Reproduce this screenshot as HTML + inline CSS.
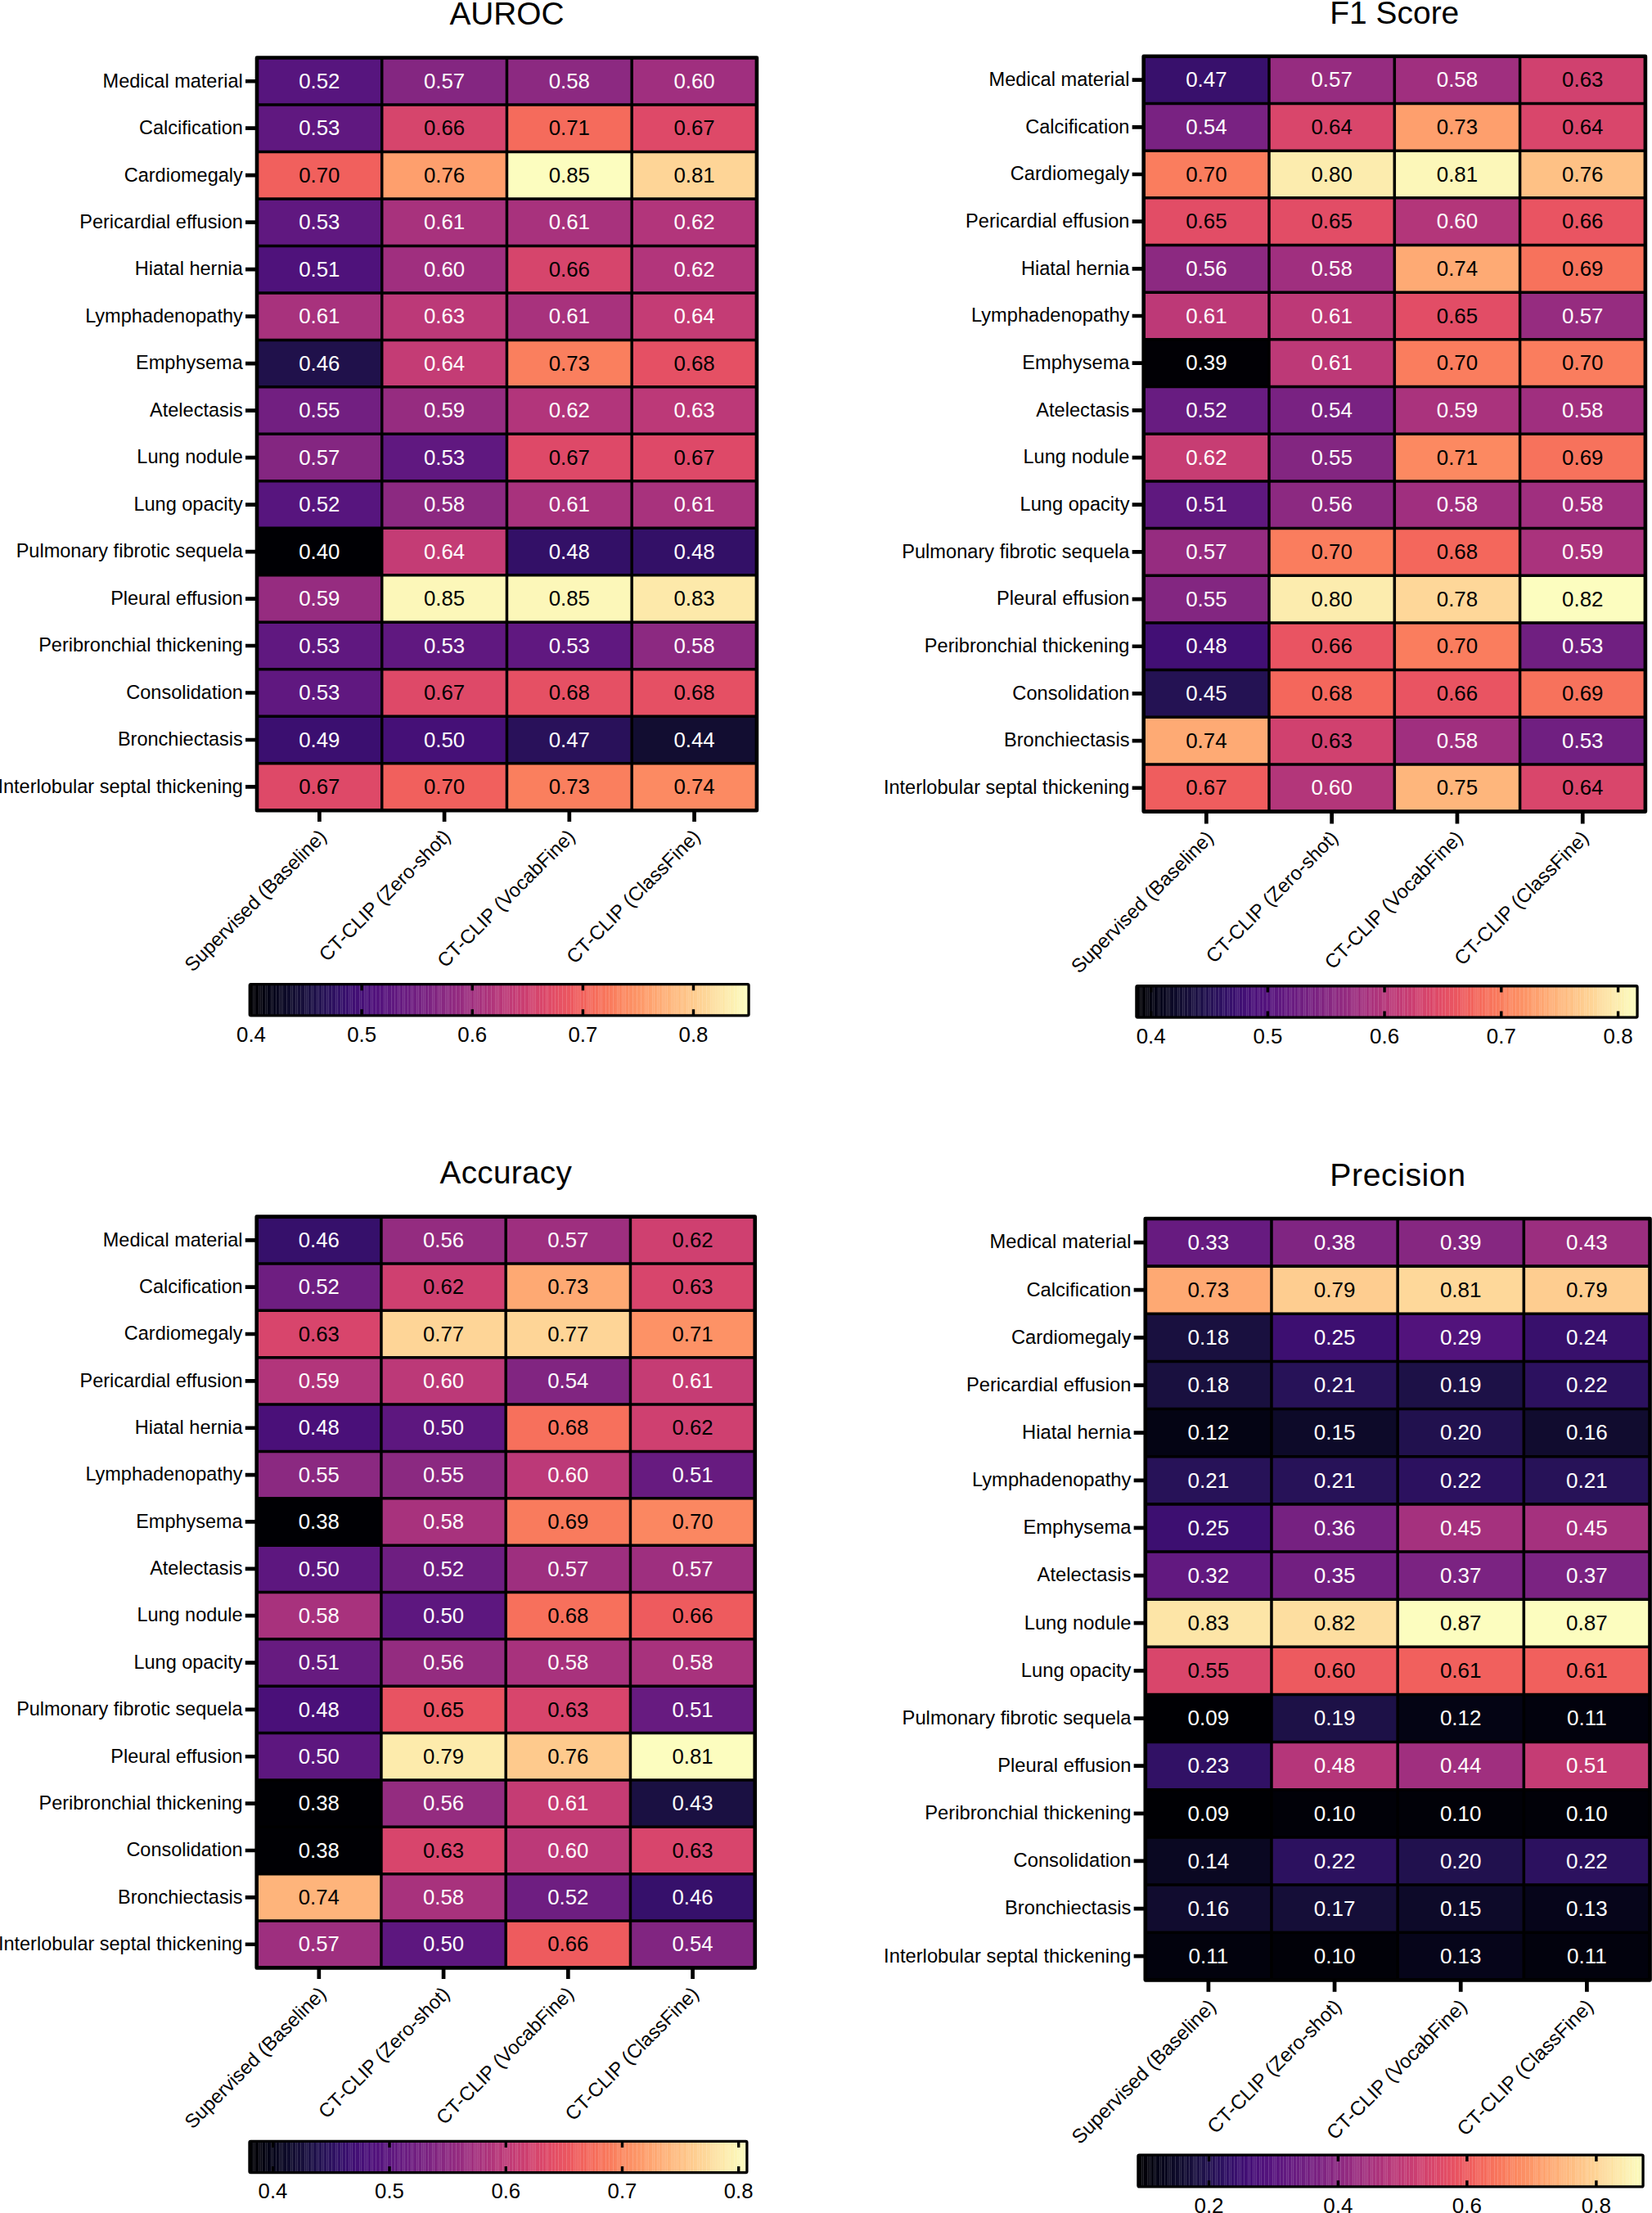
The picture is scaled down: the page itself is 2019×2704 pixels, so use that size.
<!DOCTYPE html>
<html><head><meta charset="utf-8"><title>Heatmaps</title>
<style>html,body{margin:0;padding:0;background:#fff}svg{display:block}text{font-family:"Liberation Sans",sans-serif;fill:#000}.w{fill:#fff}</style></head><body>
<svg width="2019" height="2704" viewBox="0 0 2019 2704">
<defs><linearGradient id="mg" x1="0" y1="0" x2="1" y2="0"><stop offset="0.0000" stop-color="#000004"/><stop offset="0.0156" stop-color="#020109"/><stop offset="0.0312" stop-color="#030312"/><stop offset="0.0469" stop-color="#06051a"/><stop offset="0.0625" stop-color="#0a0822"/><stop offset="0.0781" stop-color="#0e0b2b"/><stop offset="0.0938" stop-color="#130d34"/><stop offset="0.1094" stop-color="#180f3d"/><stop offset="0.1250" stop-color="#1d1147"/><stop offset="0.1406" stop-color="#221150"/><stop offset="0.1562" stop-color="#29115a"/><stop offset="0.1719" stop-color="#2f1163"/><stop offset="0.1875" stop-color="#36106b"/><stop offset="0.2031" stop-color="#3d0f71"/><stop offset="0.2188" stop-color="#440f76"/><stop offset="0.2344" stop-color="#4a1079"/><stop offset="0.2500" stop-color="#51127c"/><stop offset="0.2656" stop-color="#57157e"/><stop offset="0.2812" stop-color="#5d177f"/><stop offset="0.2969" stop-color="#641a80"/><stop offset="0.3125" stop-color="#6a1c81"/><stop offset="0.3281" stop-color="#701f81"/><stop offset="0.3438" stop-color="#762181"/><stop offset="0.3594" stop-color="#7c2382"/><stop offset="0.3750" stop-color="#832681"/><stop offset="0.3906" stop-color="#892881"/><stop offset="0.4062" stop-color="#902a81"/><stop offset="0.4219" stop-color="#962c80"/><stop offset="0.4375" stop-color="#9c2e7f"/><stop offset="0.4531" stop-color="#a3307e"/><stop offset="0.4688" stop-color="#aa337d"/><stop offset="0.4844" stop-color="#b0357b"/><stop offset="0.5000" stop-color="#b73779"/><stop offset="0.5156" stop-color="#bd3977"/><stop offset="0.5312" stop-color="#c43c75"/><stop offset="0.5469" stop-color="#ca3e72"/><stop offset="0.5625" stop-color="#d0416f"/><stop offset="0.5781" stop-color="#d6456c"/><stop offset="0.5938" stop-color="#dc4869"/><stop offset="0.6094" stop-color="#e24d66"/><stop offset="0.6250" stop-color="#e75263"/><stop offset="0.6406" stop-color="#eb5760"/><stop offset="0.6562" stop-color="#ef5d5e"/><stop offset="0.6719" stop-color="#f2645c"/><stop offset="0.6875" stop-color="#f56b5c"/><stop offset="0.7031" stop-color="#f7725c"/><stop offset="0.7188" stop-color="#f9795d"/><stop offset="0.7344" stop-color="#fa815f"/><stop offset="0.7500" stop-color="#fc8961"/><stop offset="0.7656" stop-color="#fc9065"/><stop offset="0.7812" stop-color="#fd9869"/><stop offset="0.7969" stop-color="#fe9f6d"/><stop offset="0.8125" stop-color="#fea772"/><stop offset="0.8281" stop-color="#feae77"/><stop offset="0.8438" stop-color="#feb67c"/><stop offset="0.8594" stop-color="#febd82"/><stop offset="0.8750" stop-color="#fec488"/><stop offset="0.8906" stop-color="#fecc8f"/><stop offset="0.9062" stop-color="#fed395"/><stop offset="0.9219" stop-color="#fdda9c"/><stop offset="0.9375" stop-color="#fde2a3"/><stop offset="0.9531" stop-color="#fde9aa"/><stop offset="0.9688" stop-color="#fcf0b2"/><stop offset="0.9844" stop-color="#fcf7b9"/><stop offset="1.0000" stop-color="#fcfdbf"/></linearGradient></defs>
<rect width="2019" height="2704" fill="#fff"/>
<g>
<text x="619.45" y="30" font-size="38.8" text-anchor="middle">AUROC</text>
<rect x="314" y="70.5" width="152.72" height="57.48" fill="#57157e"/>
<rect x="466.73" y="70.5" width="152.72" height="57.48" fill="#842681"/>
<rect x="619.45" y="70.5" width="152.72" height="57.48" fill="#8c2981"/>
<rect x="772.17" y="70.5" width="152.72" height="57.48" fill="#a02f7f"/>
<rect x="314" y="127.98" width="152.72" height="57.48" fill="#601880"/>
<rect x="466.73" y="127.98" width="152.72" height="57.48" fill="#d6456c"/>
<rect x="619.45" y="127.98" width="152.72" height="57.48" fill="#f56b5c"/>
<rect x="772.17" y="127.98" width="152.72" height="57.48" fill="#de4968"/>
<rect x="314" y="185.46" width="152.72" height="57.48" fill="#f1605d"/>
<rect x="466.73" y="185.46" width="152.72" height="57.48" fill="#fe9f6d"/>
<rect x="619.45" y="185.46" width="152.72" height="57.48" fill="#fcfdbf"/>
<rect x="772.17" y="185.46" width="152.72" height="57.48" fill="#fed597"/>
<rect x="314" y="242.94" width="152.72" height="57.48" fill="#601880"/>
<rect x="466.73" y="242.94" width="152.72" height="57.48" fill="#a8327d"/>
<rect x="619.45" y="242.94" width="152.72" height="57.48" fill="#a8327d"/>
<rect x="772.17" y="242.94" width="152.72" height="57.48" fill="#b2357b"/>
<rect x="314" y="300.43" width="152.72" height="57.48" fill="#4f127b"/>
<rect x="466.73" y="300.43" width="152.72" height="57.48" fill="#a02f7f"/>
<rect x="619.45" y="300.43" width="152.72" height="57.48" fill="#d6456c"/>
<rect x="772.17" y="300.43" width="152.72" height="57.48" fill="#b2357b"/>
<rect x="314" y="357.91" width="152.72" height="57.48" fill="#a8327d"/>
<rect x="466.73" y="357.91" width="152.72" height="57.48" fill="#bc3978"/>
<rect x="619.45" y="357.91" width="152.72" height="57.48" fill="#a8327d"/>
<rect x="772.17" y="357.91" width="152.72" height="57.48" fill="#c43c75"/>
<rect x="314" y="415.39" width="152.72" height="57.48" fill="#20114b"/>
<rect x="466.73" y="415.39" width="152.72" height="57.48" fill="#c43c75"/>
<rect x="619.45" y="415.39" width="152.72" height="57.48" fill="#fa7f5e"/>
<rect x="772.17" y="415.39" width="152.72" height="57.48" fill="#e55064"/>
<rect x="314" y="472.87" width="152.72" height="57.48" fill="#721f81"/>
<rect x="466.73" y="472.87" width="152.72" height="57.48" fill="#962c80"/>
<rect x="619.45" y="472.87" width="152.72" height="57.48" fill="#b2357b"/>
<rect x="772.17" y="472.87" width="152.72" height="57.48" fill="#bc3978"/>
<rect x="314" y="530.35" width="152.72" height="57.48" fill="#842681"/>
<rect x="466.73" y="530.35" width="152.72" height="57.48" fill="#601880"/>
<rect x="619.45" y="530.35" width="152.72" height="57.48" fill="#de4968"/>
<rect x="772.17" y="530.35" width="152.72" height="57.48" fill="#de4968"/>
<rect x="314" y="587.83" width="152.72" height="57.48" fill="#57157e"/>
<rect x="466.73" y="587.83" width="152.72" height="57.48" fill="#8c2981"/>
<rect x="619.45" y="587.83" width="152.72" height="57.48" fill="#a8327d"/>
<rect x="772.17" y="587.83" width="152.72" height="57.48" fill="#a8327d"/>
<rect x="314" y="645.31" width="152.72" height="57.48" fill="#000004"/>
<rect x="466.73" y="645.31" width="152.72" height="57.48" fill="#c43c75"/>
<rect x="619.45" y="645.31" width="152.72" height="57.48" fill="#331067"/>
<rect x="772.17" y="645.31" width="152.72" height="57.48" fill="#331067"/>
<rect x="314" y="702.79" width="152.72" height="57.48" fill="#962c80"/>
<rect x="466.73" y="702.79" width="152.72" height="57.48" fill="#fcf7b9"/>
<rect x="619.45" y="702.79" width="152.72" height="57.48" fill="#fcf7b9"/>
<rect x="772.17" y="702.79" width="152.72" height="57.48" fill="#fde9aa"/>
<rect x="314" y="760.28" width="152.72" height="57.48" fill="#601880"/>
<rect x="466.73" y="760.28" width="152.72" height="57.48" fill="#601880"/>
<rect x="619.45" y="760.28" width="152.72" height="57.48" fill="#601880"/>
<rect x="772.17" y="760.28" width="152.72" height="57.48" fill="#8c2981"/>
<rect x="314" y="817.76" width="152.72" height="57.48" fill="#601880"/>
<rect x="466.73" y="817.76" width="152.72" height="57.48" fill="#de4968"/>
<rect x="619.45" y="817.76" width="152.72" height="57.48" fill="#e55064"/>
<rect x="772.17" y="817.76" width="152.72" height="57.48" fill="#e55064"/>
<rect x="314" y="875.24" width="152.72" height="57.48" fill="#3b0f70"/>
<rect x="466.73" y="875.24" width="152.72" height="57.48" fill="#451077"/>
<rect x="619.45" y="875.24" width="152.72" height="57.48" fill="#29115a"/>
<rect x="772.17" y="875.24" width="152.72" height="57.48" fill="#120d31"/>
<rect x="314" y="932.72" width="152.72" height="57.48" fill="#de4968"/>
<rect x="466.73" y="932.72" width="152.72" height="57.48" fill="#f1605d"/>
<rect x="619.45" y="932.72" width="152.72" height="57.48" fill="#fa7f5e"/>
<rect x="772.17" y="932.72" width="152.72" height="57.48" fill="#fc8a62"/>
<path d="M466.73 70.5V990.2M619.45 70.5V990.2M772.17 70.5V990.2M314 127.98H924.9M314 185.46H924.9M314 242.94H924.9M314 300.43H924.9M314 357.91H924.9M314 415.39H924.9M314 472.87H924.9M314 530.35H924.9M314 587.83H924.9M314 645.31H924.9M314 702.79H924.9M314 760.28H924.9M314 817.76H924.9M314 875.24H924.9M314 932.72H924.9" stroke="#000" stroke-width="3.5" fill="none"/>
<rect x="314" y="70.5" width="610.9" height="919.7" fill="none" stroke="#000" stroke-width="4.6" stroke-linejoin="round"/>
<path d="M300 99.24H314M300 156.72H314M300 214.2H314M300 271.68H314M300 329.17H314M300 386.65H314M300 444.13H314M300 501.61H314M300 559.09H314M300 616.57H314M300 674.05H314M300 731.53H314M300 789.02H314M300 846.5H314M300 903.98H314M300 961.46H314M390.36 990.2V1003.9M543.09 990.2V1003.9M695.81 990.2V1003.9M848.54 990.2V1003.9" stroke="#000" stroke-width="4.7" fill="none"/>
<text x="296.8" y="106.54" font-size="23.52" text-anchor="end">Medical material</text>
<text x="296.8" y="164.02" font-size="23.52" text-anchor="end">Calcification</text>
<text x="296.8" y="221.5" font-size="23.52" text-anchor="end">Cardiomegaly</text>
<text x="296.8" y="278.98" font-size="23.52" text-anchor="end">Pericardial effusion</text>
<text x="296.8" y="336.47" font-size="23.52" text-anchor="end">Hiatal hernia</text>
<text x="296.8" y="393.95" font-size="23.52" text-anchor="end">Lymphadenopathy</text>
<text x="296.8" y="451.43" font-size="23.52" text-anchor="end">Emphysema</text>
<text x="296.8" y="508.91" font-size="23.52" text-anchor="end">Atelectasis</text>
<text x="296.8" y="566.39" font-size="23.52" text-anchor="end">Lung nodule</text>
<text x="296.8" y="623.87" font-size="23.52" text-anchor="end">Lung opacity</text>
<text x="296.8" y="681.35" font-size="23.52" text-anchor="end">Pulmonary fibrotic sequela</text>
<text x="296.8" y="738.83" font-size="23.52" text-anchor="end">Pleural effusion</text>
<text x="296.8" y="796.32" font-size="23.52" text-anchor="end">Peribronchial thickening</text>
<text x="296.8" y="853.8" font-size="23.52" text-anchor="end">Consolidation</text>
<text x="296.8" y="911.28" font-size="23.52" text-anchor="end">Bronchiectasis</text>
<text x="296.8" y="968.76" font-size="23.52" text-anchor="end">Interlobular septal thickening</text>
<text x="390.36" y="107.94" font-size="25.8" text-anchor="middle" class="w">0.52</text>
<text x="543.09" y="107.94" font-size="25.8" text-anchor="middle" class="w">0.57</text>
<text x="695.81" y="107.94" font-size="25.8" text-anchor="middle" class="w">0.58</text>
<text x="848.54" y="107.94" font-size="25.8" text-anchor="middle" class="w">0.60</text>
<text x="390.36" y="165.42" font-size="25.8" text-anchor="middle" class="w">0.53</text>
<text x="543.09" y="165.42" font-size="25.8" text-anchor="middle">0.66</text>
<text x="695.81" y="165.42" font-size="25.8" text-anchor="middle">0.71</text>
<text x="848.54" y="165.42" font-size="25.8" text-anchor="middle">0.67</text>
<text x="390.36" y="222.9" font-size="25.8" text-anchor="middle">0.70</text>
<text x="543.09" y="222.9" font-size="25.8" text-anchor="middle">0.76</text>
<text x="695.81" y="222.9" font-size="25.8" text-anchor="middle">0.85</text>
<text x="848.54" y="222.9" font-size="25.8" text-anchor="middle">0.81</text>
<text x="390.36" y="280.38" font-size="25.8" text-anchor="middle" class="w">0.53</text>
<text x="543.09" y="280.38" font-size="25.8" text-anchor="middle" class="w">0.61</text>
<text x="695.81" y="280.38" font-size="25.8" text-anchor="middle" class="w">0.61</text>
<text x="848.54" y="280.38" font-size="25.8" text-anchor="middle" class="w">0.62</text>
<text x="390.36" y="337.87" font-size="25.8" text-anchor="middle" class="w">0.51</text>
<text x="543.09" y="337.87" font-size="25.8" text-anchor="middle" class="w">0.60</text>
<text x="695.81" y="337.87" font-size="25.8" text-anchor="middle">0.66</text>
<text x="848.54" y="337.87" font-size="25.8" text-anchor="middle" class="w">0.62</text>
<text x="390.36" y="395.35" font-size="25.8" text-anchor="middle" class="w">0.61</text>
<text x="543.09" y="395.35" font-size="25.8" text-anchor="middle" class="w">0.63</text>
<text x="695.81" y="395.35" font-size="25.8" text-anchor="middle" class="w">0.61</text>
<text x="848.54" y="395.35" font-size="25.8" text-anchor="middle" class="w">0.64</text>
<text x="390.36" y="452.83" font-size="25.8" text-anchor="middle" class="w">0.46</text>
<text x="543.09" y="452.83" font-size="25.8" text-anchor="middle" class="w">0.64</text>
<text x="695.81" y="452.83" font-size="25.8" text-anchor="middle">0.73</text>
<text x="848.54" y="452.83" font-size="25.8" text-anchor="middle">0.68</text>
<text x="390.36" y="510.31" font-size="25.8" text-anchor="middle" class="w">0.55</text>
<text x="543.09" y="510.31" font-size="25.8" text-anchor="middle" class="w">0.59</text>
<text x="695.81" y="510.31" font-size="25.8" text-anchor="middle" class="w">0.62</text>
<text x="848.54" y="510.31" font-size="25.8" text-anchor="middle" class="w">0.63</text>
<text x="390.36" y="567.79" font-size="25.8" text-anchor="middle" class="w">0.57</text>
<text x="543.09" y="567.79" font-size="25.8" text-anchor="middle" class="w">0.53</text>
<text x="695.81" y="567.79" font-size="25.8" text-anchor="middle">0.67</text>
<text x="848.54" y="567.79" font-size="25.8" text-anchor="middle">0.67</text>
<text x="390.36" y="625.27" font-size="25.8" text-anchor="middle" class="w">0.52</text>
<text x="543.09" y="625.27" font-size="25.8" text-anchor="middle" class="w">0.58</text>
<text x="695.81" y="625.27" font-size="25.8" text-anchor="middle" class="w">0.61</text>
<text x="848.54" y="625.27" font-size="25.8" text-anchor="middle" class="w">0.61</text>
<text x="390.36" y="682.75" font-size="25.8" text-anchor="middle" class="w">0.40</text>
<text x="543.09" y="682.75" font-size="25.8" text-anchor="middle" class="w">0.64</text>
<text x="695.81" y="682.75" font-size="25.8" text-anchor="middle" class="w">0.48</text>
<text x="848.54" y="682.75" font-size="25.8" text-anchor="middle" class="w">0.48</text>
<text x="390.36" y="740.23" font-size="25.8" text-anchor="middle" class="w">0.59</text>
<text x="543.09" y="740.23" font-size="25.8" text-anchor="middle">0.85</text>
<text x="695.81" y="740.23" font-size="25.8" text-anchor="middle">0.85</text>
<text x="848.54" y="740.23" font-size="25.8" text-anchor="middle">0.83</text>
<text x="390.36" y="797.72" font-size="25.8" text-anchor="middle" class="w">0.53</text>
<text x="543.09" y="797.72" font-size="25.8" text-anchor="middle" class="w">0.53</text>
<text x="695.81" y="797.72" font-size="25.8" text-anchor="middle" class="w">0.53</text>
<text x="848.54" y="797.72" font-size="25.8" text-anchor="middle" class="w">0.58</text>
<text x="390.36" y="855.2" font-size="25.8" text-anchor="middle" class="w">0.53</text>
<text x="543.09" y="855.2" font-size="25.8" text-anchor="middle">0.67</text>
<text x="695.81" y="855.2" font-size="25.8" text-anchor="middle">0.68</text>
<text x="848.54" y="855.2" font-size="25.8" text-anchor="middle">0.68</text>
<text x="390.36" y="912.68" font-size="25.8" text-anchor="middle" class="w">0.49</text>
<text x="543.09" y="912.68" font-size="25.8" text-anchor="middle" class="w">0.50</text>
<text x="695.81" y="912.68" font-size="25.8" text-anchor="middle" class="w">0.47</text>
<text x="848.54" y="912.68" font-size="25.8" text-anchor="middle" class="w">0.44</text>
<text x="390.36" y="970.16" font-size="25.8" text-anchor="middle">0.67</text>
<text x="543.09" y="970.16" font-size="25.8" text-anchor="middle">0.70</text>
<text x="695.81" y="970.16" font-size="25.8" text-anchor="middle">0.73</text>
<text x="848.54" y="970.16" font-size="25.8" text-anchor="middle">0.74</text>
<text transform="translate(400.36 1023.6) rotate(-45)" font-size="23.83" text-anchor="end">Supervised (Baseline)</text>
<text transform="translate(551.99 1023.6) rotate(-45)" font-size="23.83" text-anchor="end">CT-CLIP (Zero-shot)</text>
<text transform="translate(704.01 1023.6) rotate(-45)" font-size="23.83" text-anchor="end">CT-CLIP (VocabFine)</text>
<text transform="translate(857.24 1023.6) rotate(-45)" font-size="23.83" text-anchor="end">CT-CLIP (ClassFine)</text>
<rect x="305.25" y="1202.65" width="609.8" height="38.3" fill="url(#mg)"/>
<path d="M309.5 1202.65V1240.95M311.5 1202.65V1240.95M316.5 1202.65V1240.95M318.5 1202.65V1240.95M320.5 1202.65V1240.95M324.5 1202.65V1240.95M326.5 1202.65V1240.95M331.5 1202.65V1240.95M333.5 1202.65V1240.95M337.5 1202.65V1240.95M341.5 1202.65V1240.95M343.5 1202.65V1240.95M345.5 1202.65V1240.95M350.5 1202.65V1240.95M355.5 1202.65V1240.95M357.5 1202.65V1240.95M361.5 1202.65V1240.95M363.5 1202.65V1240.95M367.5 1202.65V1240.95M372.5 1202.65V1240.95M374.5 1202.65V1240.95M376.5 1202.65V1240.95M380.5 1202.65V1240.95M382.5 1202.65V1240.95M387.5 1202.65V1240.95M389.5 1202.65V1240.95M393.5 1202.65V1240.95M395.5 1202.65V1240.95M399.5 1202.65V1240.95M401.5 1202.65V1240.95M405.5 1202.65V1240.95M410.5 1202.65V1240.95M412.5 1202.65V1240.95M416.5 1202.65V1240.95M418.5 1202.65V1240.95M422.5 1202.65V1240.95M426.5 1202.65V1240.95M428.5 1202.65V1240.95M430.5 1202.65V1240.95M434.5 1202.65V1240.95M439.5 1202.65V1240.95M441.5 1202.65V1240.95M445.5 1202.65V1240.95M447.5 1202.65V1240.95M449.5 1202.65V1240.95M453.5 1202.65V1240.95M455.5 1202.65V1240.95M459.5 1202.65V1240.95M464.5 1202.65V1240.95M469.5 1202.65V1240.95M471.5 1202.65V1240.95M473.5 1202.65V1240.95M478.5 1202.65V1240.95M482.5 1202.65V1240.95M486.5 1202.65V1240.95M488.5 1202.65V1240.95M492.5 1202.65V1240.95M494.5 1202.65V1240.95M498.5 1202.65V1240.95M502.5 1202.65V1240.95M504.5 1202.65V1240.95M509.5 1202.65V1240.95M511.5 1202.65V1240.95M515.5 1202.65V1240.95M517.5 1202.65V1240.95M519.5 1202.65V1240.95M523.5 1202.65V1240.95M528.5 1202.65V1240.95M530.5 1202.65V1240.95M535.5 1202.65V1240.95M537.5 1202.65V1240.95M539.5 1202.65V1240.95M544.5 1202.65V1240.95M546.5 1202.65V1240.95M548.5 1202.65V1240.95M552.5 1202.65V1240.95M557.5 1202.65V1240.95M562.5 1202.65V1240.95M567.5 1202.65V1240.95M569.5 1202.65V1240.95M571.5 1202.65V1240.95M573.5 1202.65V1240.95M575.5 1202.65V1240.95M579.5 1202.65V1240.95M581.5 1202.65V1240.95M583.5 1202.65V1240.95M585.5 1202.65V1240.95M589.5 1202.65V1240.95M591.5 1202.65V1240.95M595.5 1202.65V1240.95M600.5 1202.65V1240.95M605.5 1202.65V1240.95M607.5 1202.65V1240.95M609.5 1202.65V1240.95M614.5 1202.65V1240.95M616.5 1202.65V1240.95M618.5 1202.65V1240.95M620.5 1202.65V1240.95M622.5 1202.65V1240.95M626.5 1202.65V1240.95M630.5 1202.65V1240.95M632.5 1202.65V1240.95M636.5 1202.65V1240.95M641.5 1202.65V1240.95M646.5 1202.65V1240.95M648.5 1202.65V1240.95M650.5 1202.65V1240.95M652.5 1202.65V1240.95M654.5 1202.65V1240.95M659.5 1202.65V1240.95M663.5 1202.65V1240.95M667.5 1202.65V1240.95M669.5 1202.65V1240.95M674.5 1202.65V1240.95M678.5 1202.65V1240.95M682.5 1202.65V1240.95M687.5 1202.65V1240.95M692.5 1202.65V1240.95M697.5 1202.65V1240.95M701.5 1202.65V1240.95M703.5 1202.65V1240.95M705.5 1202.65V1240.95M707.5 1202.65V1240.95M709.5 1202.65V1240.95M713.5 1202.65V1240.95M717.5 1202.65V1240.95M719.5 1202.65V1240.95M721.5 1202.65V1240.95M723.5 1202.65V1240.95M727.5 1202.65V1240.95M731.5 1202.65V1240.95M733.5 1202.65V1240.95M735.5 1202.65V1240.95M740.5 1202.65V1240.95M744.5 1202.65V1240.95M749.5 1202.65V1240.95M754.5 1202.65V1240.95M756.5 1202.65V1240.95M760.5 1202.65V1240.95M762.5 1202.65V1240.95M764.5 1202.65V1240.95M768.5 1202.65V1240.95M773.5 1202.65V1240.95M778.5 1202.65V1240.95M783.5 1202.65V1240.95M788.5 1202.65V1240.95M790.5 1202.65V1240.95M792.5 1202.65V1240.95M797.5 1202.65V1240.95M799.5 1202.65V1240.95M803.5 1202.65V1240.95M805.5 1202.65V1240.95M809.5 1202.65V1240.95M811.5 1202.65V1240.95M813.5 1202.65V1240.95M815.5 1202.65V1240.95M820.5 1202.65V1240.95M822.5 1202.65V1240.95M824.5 1202.65V1240.95M826.5 1202.65V1240.95M828.5 1202.65V1240.95M832.5 1202.65V1240.95M834.5 1202.65V1240.95M839.5 1202.65V1240.95M841.5 1202.65V1240.95M843.5 1202.65V1240.95M847.5 1202.65V1240.95M852.5 1202.65V1240.95M854.5 1202.65V1240.95M858.5 1202.65V1240.95M863.5 1202.65V1240.95M868.5 1202.65V1240.95M870.5 1202.65V1240.95M872.5 1202.65V1240.95M874.5 1202.65V1240.95M876.5 1202.65V1240.95M878.5 1202.65V1240.95M880.5 1202.65V1240.95M882.5 1202.65V1240.95M886.5 1202.65V1240.95M888.5 1202.65V1240.95M890.5 1202.65V1240.95M892.5 1202.65V1240.95M897.5 1202.65V1240.95M901.5 1202.65V1240.95M903.5 1202.65V1240.95M905.5 1202.65V1240.95M909.5 1202.65V1240.95M911.5 1202.65V1240.95" stroke="#fff" stroke-opacity="0.16" stroke-width="1" fill="none"/>
<rect x="305.25" y="1202.65" width="609.8" height="38.3" rx="1.4" fill="none" stroke="#000" stroke-width="3.3"/>
<path d="M307 1202.65v7.65M307 1240.95v-7.65M442.1 1202.65v7.65M442.1 1240.95v-7.65M577.3 1202.65v7.65M577.3 1240.95v-7.65M712.4 1202.65v7.65M712.4 1240.95v-7.65M847.5 1202.65v7.65M847.5 1240.95v-7.65" stroke="#000" stroke-width="3.4" fill="none"/>
<text x="307" y="1272.6" font-size="25.8" text-anchor="middle">0.4</text>
<text x="442.1" y="1272.6" font-size="25.8" text-anchor="middle">0.5</text>
<text x="577.3" y="1272.6" font-size="25.8" text-anchor="middle">0.6</text>
<text x="712.4" y="1272.6" font-size="25.8" text-anchor="middle">0.7</text>
<text x="847.5" y="1272.6" font-size="25.8" text-anchor="middle">0.8</text>
</g>
<g>
<text x="1704.3" y="29" font-size="38.94" text-anchor="middle">F1 Score</text>
<rect x="1397.7" y="68.8" width="153.3" height="57.68" fill="#38106c"/>
<rect x="1551" y="68.8" width="153.3" height="57.68" fill="#962c80"/>
<rect x="1704.3" y="68.8" width="153.3" height="57.68" fill="#a02f7f"/>
<rect x="1857.6" y="68.8" width="153.3" height="57.68" fill="#d0416f"/>
<rect x="1397.7" y="126.47" width="153.3" height="57.68" fill="#792282"/>
<rect x="1551" y="126.47" width="153.3" height="57.68" fill="#d9466b"/>
<rect x="1704.3" y="126.47" width="153.3" height="57.68" fill="#fe9f6d"/>
<rect x="1857.6" y="126.47" width="153.3" height="57.68" fill="#d9466b"/>
<rect x="1397.7" y="184.15" width="153.3" height="57.68" fill="#fa7d5e"/>
<rect x="1551" y="184.15" width="153.3" height="57.68" fill="#fcecae"/>
<rect x="1704.3" y="184.15" width="153.3" height="57.68" fill="#fcf7b9"/>
<rect x="1857.6" y="184.15" width="153.3" height="57.68" fill="#fec185"/>
<rect x="1397.7" y="241.82" width="153.3" height="57.68" fill="#e24d66"/>
<rect x="1551" y="241.82" width="153.3" height="57.68" fill="#e24d66"/>
<rect x="1704.3" y="241.82" width="153.3" height="57.68" fill="#b3367a"/>
<rect x="1857.6" y="241.82" width="153.3" height="57.68" fill="#e95462"/>
<rect x="1397.7" y="299.5" width="153.3" height="57.68" fill="#8c2981"/>
<rect x="1551" y="299.5" width="153.3" height="57.68" fill="#a02f7f"/>
<rect x="1704.3" y="299.5" width="153.3" height="57.68" fill="#feaa74"/>
<rect x="1857.6" y="299.5" width="153.3" height="57.68" fill="#f7725c"/>
<rect x="1397.7" y="357.18" width="153.3" height="57.68" fill="#bd3977"/>
<rect x="1551" y="357.18" width="153.3" height="57.68" fill="#bd3977"/>
<rect x="1704.3" y="357.18" width="153.3" height="57.68" fill="#e24d66"/>
<rect x="1857.6" y="357.18" width="153.3" height="57.68" fill="#962c80"/>
<rect x="1397.7" y="414.85" width="153.3" height="57.68" fill="#010005"/>
<rect x="1551" y="414.85" width="153.3" height="57.68" fill="#bd3977"/>
<rect x="1704.3" y="414.85" width="153.3" height="57.68" fill="#fa7d5e"/>
<rect x="1857.6" y="414.85" width="153.3" height="57.68" fill="#fa7d5e"/>
<rect x="1397.7" y="472.53" width="153.3" height="57.68" fill="#681c81"/>
<rect x="1551" y="472.53" width="153.3" height="57.68" fill="#792282"/>
<rect x="1704.3" y="472.53" width="153.3" height="57.68" fill="#aa337d"/>
<rect x="1857.6" y="472.53" width="153.3" height="57.68" fill="#a02f7f"/>
<rect x="1397.7" y="530.2" width="153.3" height="57.68" fill="#c73d73"/>
<rect x="1551" y="530.2" width="153.3" height="57.68" fill="#832681"/>
<rect x="1704.3" y="530.2" width="153.3" height="57.68" fill="#fc8961"/>
<rect x="1857.6" y="530.2" width="153.3" height="57.68" fill="#f7725c"/>
<rect x="1397.7" y="587.88" width="153.3" height="57.68" fill="#5f187f"/>
<rect x="1551" y="587.88" width="153.3" height="57.68" fill="#8c2981"/>
<rect x="1704.3" y="587.88" width="153.3" height="57.68" fill="#a02f7f"/>
<rect x="1857.6" y="587.88" width="153.3" height="57.68" fill="#a02f7f"/>
<rect x="1397.7" y="645.55" width="153.3" height="57.68" fill="#962c80"/>
<rect x="1551" y="645.55" width="153.3" height="57.68" fill="#fa7d5e"/>
<rect x="1704.3" y="645.55" width="153.3" height="57.68" fill="#f4675c"/>
<rect x="1857.6" y="645.55" width="153.3" height="57.68" fill="#aa337d"/>
<rect x="1397.7" y="703.23" width="153.3" height="57.68" fill="#832681"/>
<rect x="1551" y="703.23" width="153.3" height="57.68" fill="#fcecae"/>
<rect x="1704.3" y="703.23" width="153.3" height="57.68" fill="#fed799"/>
<rect x="1857.6" y="703.23" width="153.3" height="57.68" fill="#fcfdbf"/>
<rect x="1397.7" y="760.9" width="153.3" height="57.68" fill="#420f75"/>
<rect x="1551" y="760.9" width="153.3" height="57.68" fill="#e95462"/>
<rect x="1704.3" y="760.9" width="153.3" height="57.68" fill="#fa7d5e"/>
<rect x="1857.6" y="760.9" width="153.3" height="57.68" fill="#701f81"/>
<rect x="1397.7" y="818.57" width="153.3" height="57.68" fill="#241253"/>
<rect x="1551" y="818.57" width="153.3" height="57.68" fill="#f4675c"/>
<rect x="1704.3" y="818.57" width="153.3" height="57.68" fill="#e95462"/>
<rect x="1857.6" y="818.57" width="153.3" height="57.68" fill="#f7725c"/>
<rect x="1397.7" y="876.25" width="153.3" height="57.68" fill="#feaa74"/>
<rect x="1551" y="876.25" width="153.3" height="57.68" fill="#d0416f"/>
<rect x="1704.3" y="876.25" width="153.3" height="57.68" fill="#a02f7f"/>
<rect x="1857.6" y="876.25" width="153.3" height="57.68" fill="#701f81"/>
<rect x="1397.7" y="933.92" width="153.3" height="57.68" fill="#ef5d5e"/>
<rect x="1551" y="933.92" width="153.3" height="57.68" fill="#b3367a"/>
<rect x="1704.3" y="933.92" width="153.3" height="57.68" fill="#feb67c"/>
<rect x="1857.6" y="933.92" width="153.3" height="57.68" fill="#d9466b"/>
<path d="M1551 68.8V991.6M1704.3 68.8V991.6M1857.6 68.8V991.6M1397.7 126.47H2010.9M1397.7 184.15H2010.9M1397.7 241.82H2010.9M1397.7 299.5H2010.9M1397.7 357.18H2010.9M1397.7 414.85H2010.9M1397.7 472.53H2010.9M1397.7 530.2H2010.9M1397.7 587.88H2010.9M1397.7 645.55H2010.9M1397.7 703.23H2010.9M1397.7 760.9H2010.9M1397.7 818.57H2010.9M1397.7 876.25H2010.9M1397.7 933.92H2010.9" stroke="#000" stroke-width="3.51" fill="none"/>
<rect x="1397.7" y="68.8" width="613.2" height="922.8" fill="none" stroke="#000" stroke-width="4.62" stroke-linejoin="round"/>
<path d="M1383.65 97.64H1397.7M1383.65 155.31H1397.7M1383.65 212.99H1397.7M1383.65 270.66H1397.7M1383.65 328.34H1397.7M1383.65 386.01H1397.7M1383.65 443.69H1397.7M1383.65 501.36H1397.7M1383.65 559.04H1397.7M1383.65 616.71H1397.7M1383.65 674.39H1397.7M1383.65 732.06H1397.7M1383.65 789.74H1397.7M1383.65 847.41H1397.7M1383.65 905.09H1397.7M1383.65 962.76H1397.7M1474.35 991.6V1006.55M1627.65 991.6V1006.55M1780.95 991.6V1006.55M1934.25 991.6V1006.55" stroke="#000" stroke-width="4.72" fill="none"/>
<text x="1380.44" y="104.96" font-size="23.61" text-anchor="end">Medical material</text>
<text x="1380.44" y="162.64" font-size="23.61" text-anchor="end">Calcification</text>
<text x="1380.44" y="220.31" font-size="23.61" text-anchor="end">Cardiomegaly</text>
<text x="1380.44" y="277.99" font-size="23.61" text-anchor="end">Pericardial effusion</text>
<text x="1380.44" y="335.66" font-size="23.61" text-anchor="end">Hiatal hernia</text>
<text x="1380.44" y="393.34" font-size="23.61" text-anchor="end">Lymphadenopathy</text>
<text x="1380.44" y="451.01" font-size="23.61" text-anchor="end">Emphysema</text>
<text x="1380.44" y="508.69" font-size="23.61" text-anchor="end">Atelectasis</text>
<text x="1380.44" y="566.36" font-size="23.61" text-anchor="end">Lung nodule</text>
<text x="1380.44" y="624.04" font-size="23.61" text-anchor="end">Lung opacity</text>
<text x="1380.44" y="681.71" font-size="23.61" text-anchor="end">Pulmonary fibrotic sequela</text>
<text x="1380.44" y="739.39" font-size="23.61" text-anchor="end">Pleural effusion</text>
<text x="1380.44" y="797.06" font-size="23.61" text-anchor="end">Peribronchial thickening</text>
<text x="1380.44" y="854.74" font-size="23.61" text-anchor="end">Consolidation</text>
<text x="1380.44" y="912.41" font-size="23.61" text-anchor="end">Bronchiectasis</text>
<text x="1380.44" y="970.09" font-size="23.61" text-anchor="end">Interlobular septal thickening</text>
<text x="1474.35" y="106.37" font-size="25.9" text-anchor="middle" class="w">0.47</text>
<text x="1627.65" y="106.37" font-size="25.9" text-anchor="middle" class="w">0.57</text>
<text x="1780.95" y="106.37" font-size="25.9" text-anchor="middle" class="w">0.58</text>
<text x="1934.25" y="106.37" font-size="25.9" text-anchor="middle">0.63</text>
<text x="1474.35" y="164.04" font-size="25.9" text-anchor="middle" class="w">0.54</text>
<text x="1627.65" y="164.04" font-size="25.9" text-anchor="middle">0.64</text>
<text x="1780.95" y="164.04" font-size="25.9" text-anchor="middle">0.73</text>
<text x="1934.25" y="164.04" font-size="25.9" text-anchor="middle">0.64</text>
<text x="1474.35" y="221.72" font-size="25.9" text-anchor="middle">0.70</text>
<text x="1627.65" y="221.72" font-size="25.9" text-anchor="middle">0.80</text>
<text x="1780.95" y="221.72" font-size="25.9" text-anchor="middle">0.81</text>
<text x="1934.25" y="221.72" font-size="25.9" text-anchor="middle">0.76</text>
<text x="1474.35" y="279.39" font-size="25.9" text-anchor="middle">0.65</text>
<text x="1627.65" y="279.39" font-size="25.9" text-anchor="middle">0.65</text>
<text x="1780.95" y="279.39" font-size="25.9" text-anchor="middle" class="w">0.60</text>
<text x="1934.25" y="279.39" font-size="25.9" text-anchor="middle">0.66</text>
<text x="1474.35" y="337.07" font-size="25.9" text-anchor="middle" class="w">0.56</text>
<text x="1627.65" y="337.07" font-size="25.9" text-anchor="middle" class="w">0.58</text>
<text x="1780.95" y="337.07" font-size="25.9" text-anchor="middle">0.74</text>
<text x="1934.25" y="337.07" font-size="25.9" text-anchor="middle">0.69</text>
<text x="1474.35" y="394.74" font-size="25.9" text-anchor="middle" class="w">0.61</text>
<text x="1627.65" y="394.74" font-size="25.9" text-anchor="middle" class="w">0.61</text>
<text x="1780.95" y="394.74" font-size="25.9" text-anchor="middle">0.65</text>
<text x="1934.25" y="394.74" font-size="25.9" text-anchor="middle" class="w">0.57</text>
<text x="1474.35" y="452.42" font-size="25.9" text-anchor="middle" class="w">0.39</text>
<text x="1627.65" y="452.42" font-size="25.9" text-anchor="middle" class="w">0.61</text>
<text x="1780.95" y="452.42" font-size="25.9" text-anchor="middle">0.70</text>
<text x="1934.25" y="452.42" font-size="25.9" text-anchor="middle">0.70</text>
<text x="1474.35" y="510.09" font-size="25.9" text-anchor="middle" class="w">0.52</text>
<text x="1627.65" y="510.09" font-size="25.9" text-anchor="middle" class="w">0.54</text>
<text x="1780.95" y="510.09" font-size="25.9" text-anchor="middle" class="w">0.59</text>
<text x="1934.25" y="510.09" font-size="25.9" text-anchor="middle" class="w">0.58</text>
<text x="1474.35" y="567.77" font-size="25.9" text-anchor="middle" class="w">0.62</text>
<text x="1627.65" y="567.77" font-size="25.9" text-anchor="middle" class="w">0.55</text>
<text x="1780.95" y="567.77" font-size="25.9" text-anchor="middle">0.71</text>
<text x="1934.25" y="567.77" font-size="25.9" text-anchor="middle">0.69</text>
<text x="1474.35" y="625.44" font-size="25.9" text-anchor="middle" class="w">0.51</text>
<text x="1627.65" y="625.44" font-size="25.9" text-anchor="middle" class="w">0.56</text>
<text x="1780.95" y="625.44" font-size="25.9" text-anchor="middle" class="w">0.58</text>
<text x="1934.25" y="625.44" font-size="25.9" text-anchor="middle" class="w">0.58</text>
<text x="1474.35" y="683.12" font-size="25.9" text-anchor="middle" class="w">0.57</text>
<text x="1627.65" y="683.12" font-size="25.9" text-anchor="middle">0.70</text>
<text x="1780.95" y="683.12" font-size="25.9" text-anchor="middle">0.68</text>
<text x="1934.25" y="683.12" font-size="25.9" text-anchor="middle" class="w">0.59</text>
<text x="1474.35" y="740.79" font-size="25.9" text-anchor="middle" class="w">0.55</text>
<text x="1627.65" y="740.79" font-size="25.9" text-anchor="middle">0.80</text>
<text x="1780.95" y="740.79" font-size="25.9" text-anchor="middle">0.78</text>
<text x="1934.25" y="740.79" font-size="25.9" text-anchor="middle">0.82</text>
<text x="1474.35" y="798.47" font-size="25.9" text-anchor="middle" class="w">0.48</text>
<text x="1627.65" y="798.47" font-size="25.9" text-anchor="middle">0.66</text>
<text x="1780.95" y="798.47" font-size="25.9" text-anchor="middle">0.70</text>
<text x="1934.25" y="798.47" font-size="25.9" text-anchor="middle" class="w">0.53</text>
<text x="1474.35" y="856.14" font-size="25.9" text-anchor="middle" class="w">0.45</text>
<text x="1627.65" y="856.14" font-size="25.9" text-anchor="middle">0.68</text>
<text x="1780.95" y="856.14" font-size="25.9" text-anchor="middle">0.66</text>
<text x="1934.25" y="856.14" font-size="25.9" text-anchor="middle">0.69</text>
<text x="1474.35" y="913.82" font-size="25.9" text-anchor="middle">0.74</text>
<text x="1627.65" y="913.82" font-size="25.9" text-anchor="middle">0.63</text>
<text x="1780.95" y="913.82" font-size="25.9" text-anchor="middle" class="w">0.58</text>
<text x="1934.25" y="913.82" font-size="25.9" text-anchor="middle" class="w">0.53</text>
<text x="1474.35" y="971.49" font-size="25.9" text-anchor="middle">0.67</text>
<text x="1627.65" y="971.49" font-size="25.9" text-anchor="middle" class="w">0.60</text>
<text x="1780.95" y="971.49" font-size="25.9" text-anchor="middle">0.75</text>
<text x="1934.25" y="971.49" font-size="25.9" text-anchor="middle">0.64</text>
<text transform="translate(1484.39 1025.11) rotate(-45)" font-size="23.92" text-anchor="end">Supervised (Baseline)</text>
<text transform="translate(1636.58 1025.11) rotate(-45)" font-size="23.92" text-anchor="end">CT-CLIP (Zero-shot)</text>
<text transform="translate(1789.18 1025.11) rotate(-45)" font-size="23.92" text-anchor="end">CT-CLIP (VocabFine)</text>
<text transform="translate(1942.98 1025.11) rotate(-45)" font-size="23.92" text-anchor="end">CT-CLIP (ClassFine)</text>
<rect x="1388.92" y="1204.77" width="612.1" height="38.43" fill="url(#mg)"/>
<path d="M1393.5 1204.77V1243.2M1395.5 1204.77V1243.2M1400.5 1204.77V1243.2M1402.5 1204.77V1243.2M1404.5 1204.77V1243.2M1408.5 1204.77V1243.2M1410.5 1204.77V1243.2M1415.5 1204.77V1243.2M1417.5 1204.77V1243.2M1421.5 1204.77V1243.2M1425.5 1204.77V1243.2M1427.5 1204.77V1243.2M1429.5 1204.77V1243.2M1434.5 1204.77V1243.2M1439.5 1204.77V1243.2M1441.5 1204.77V1243.2M1445.5 1204.77V1243.2M1447.5 1204.77V1243.2M1451.5 1204.77V1243.2M1456.5 1204.77V1243.2M1458.5 1204.77V1243.2M1460.5 1204.77V1243.2M1464.5 1204.77V1243.2M1466.5 1204.77V1243.2M1471.5 1204.77V1243.2M1473.5 1204.77V1243.2M1477.5 1204.77V1243.2M1479.5 1204.77V1243.2M1483.5 1204.77V1243.2M1485.5 1204.77V1243.2M1489.5 1204.77V1243.2M1494.5 1204.77V1243.2M1496.5 1204.77V1243.2M1500.5 1204.77V1243.2M1502.5 1204.77V1243.2M1506.5 1204.77V1243.2M1510.5 1204.77V1243.2M1512.5 1204.77V1243.2M1514.5 1204.77V1243.2M1518.5 1204.77V1243.2M1523.5 1204.77V1243.2M1525.5 1204.77V1243.2M1529.5 1204.77V1243.2M1531.5 1204.77V1243.2M1533.5 1204.77V1243.2M1537.5 1204.77V1243.2M1539.5 1204.77V1243.2M1543.5 1204.77V1243.2M1548.5 1204.77V1243.2M1553.5 1204.77V1243.2M1555.5 1204.77V1243.2M1557.5 1204.77V1243.2M1562.5 1204.77V1243.2M1566.5 1204.77V1243.2M1570.5 1204.77V1243.2M1572.5 1204.77V1243.2M1576.5 1204.77V1243.2M1578.5 1204.77V1243.2M1582.5 1204.77V1243.2M1586.5 1204.77V1243.2M1588.5 1204.77V1243.2M1593.5 1204.77V1243.2M1595.5 1204.77V1243.2M1599.5 1204.77V1243.2M1601.5 1204.77V1243.2M1603.5 1204.77V1243.2M1607.5 1204.77V1243.2M1612.5 1204.77V1243.2M1614.5 1204.77V1243.2M1619.5 1204.77V1243.2M1621.5 1204.77V1243.2M1623.5 1204.77V1243.2M1628.5 1204.77V1243.2M1630.5 1204.77V1243.2M1632.5 1204.77V1243.2M1636.5 1204.77V1243.2M1641.5 1204.77V1243.2M1646.5 1204.77V1243.2M1651.5 1204.77V1243.2M1653.5 1204.77V1243.2M1655.5 1204.77V1243.2M1657.5 1204.77V1243.2M1659.5 1204.77V1243.2M1663.5 1204.77V1243.2M1665.5 1204.77V1243.2M1667.5 1204.77V1243.2M1669.5 1204.77V1243.2M1673.5 1204.77V1243.2M1675.5 1204.77V1243.2M1679.5 1204.77V1243.2M1684.5 1204.77V1243.2M1689.5 1204.77V1243.2M1691.5 1204.77V1243.2M1693.5 1204.77V1243.2M1698.5 1204.77V1243.2M1700.5 1204.77V1243.2M1702.5 1204.77V1243.2M1704.5 1204.77V1243.2M1706.5 1204.77V1243.2M1710.5 1204.77V1243.2M1714.5 1204.77V1243.2M1716.5 1204.77V1243.2M1720.5 1204.77V1243.2M1725.5 1204.77V1243.2M1730.5 1204.77V1243.2M1732.5 1204.77V1243.2M1734.5 1204.77V1243.2M1736.5 1204.77V1243.2M1738.5 1204.77V1243.2M1743.5 1204.77V1243.2M1747.5 1204.77V1243.2M1751.5 1204.77V1243.2M1753.5 1204.77V1243.2M1758.5 1204.77V1243.2M1762.5 1204.77V1243.2M1766.5 1204.77V1243.2M1771.5 1204.77V1243.2M1776.5 1204.77V1243.2M1781.5 1204.77V1243.2M1785.5 1204.77V1243.2M1787.5 1204.77V1243.2M1789.5 1204.77V1243.2M1791.5 1204.77V1243.2M1793.5 1204.77V1243.2M1797.5 1204.77V1243.2M1801.5 1204.77V1243.2M1803.5 1204.77V1243.2M1805.5 1204.77V1243.2M1807.5 1204.77V1243.2M1811.5 1204.77V1243.2M1815.5 1204.77V1243.2M1817.5 1204.77V1243.2M1819.5 1204.77V1243.2M1824.5 1204.77V1243.2M1828.5 1204.77V1243.2M1833.5 1204.77V1243.2M1838.5 1204.77V1243.2M1840.5 1204.77V1243.2M1844.5 1204.77V1243.2M1846.5 1204.77V1243.2M1848.5 1204.77V1243.2M1852.5 1204.77V1243.2M1857.5 1204.77V1243.2M1862.5 1204.77V1243.2M1867.5 1204.77V1243.2M1872.5 1204.77V1243.2M1874.5 1204.77V1243.2M1876.5 1204.77V1243.2M1881.5 1204.77V1243.2M1883.5 1204.77V1243.2M1887.5 1204.77V1243.2M1889.5 1204.77V1243.2M1893.5 1204.77V1243.2M1895.5 1204.77V1243.2M1897.5 1204.77V1243.2M1899.5 1204.77V1243.2M1904.5 1204.77V1243.2M1906.5 1204.77V1243.2M1908.5 1204.77V1243.2M1910.5 1204.77V1243.2M1912.5 1204.77V1243.2M1916.5 1204.77V1243.2M1918.5 1204.77V1243.2M1923.5 1204.77V1243.2M1925.5 1204.77V1243.2M1927.5 1204.77V1243.2M1931.5 1204.77V1243.2M1936.5 1204.77V1243.2M1938.5 1204.77V1243.2M1942.5 1204.77V1243.2M1947.5 1204.77V1243.2M1952.5 1204.77V1243.2M1954.5 1204.77V1243.2M1956.5 1204.77V1243.2M1958.5 1204.77V1243.2M1960.5 1204.77V1243.2M1962.5 1204.77V1243.2M1964.5 1204.77V1243.2M1966.5 1204.77V1243.2M1970.5 1204.77V1243.2M1972.5 1204.77V1243.2M1974.5 1204.77V1243.2M1976.5 1204.77V1243.2M1981.5 1204.77V1243.2M1985.5 1204.77V1243.2M1987.5 1204.77V1243.2M1989.5 1204.77V1243.2M1993.5 1204.77V1243.2M1995.5 1204.77V1243.2M1999.5 1204.77V1243.2" stroke="#fff" stroke-opacity="0.16" stroke-width="1" fill="none"/>
<rect x="1388.92" y="1204.77" width="612.1" height="38.43" rx="1.41" fill="none" stroke="#000" stroke-width="3.31"/>
<path d="M1406.7 1204.77v7.68M1406.7 1243.2v-7.68M1549.4 1204.77v7.68M1549.4 1243.2v-7.68M1692.1 1204.77v7.68M1692.1 1243.2v-7.68M1834.8 1204.77v7.68M1834.8 1243.2v-7.68M1977.6 1204.77v7.68M1977.6 1243.2v-7.68" stroke="#000" stroke-width="3.41" fill="none"/>
<text x="1406.7" y="1274.95" font-size="25.9" text-anchor="middle">0.4</text>
<text x="1549.4" y="1274.95" font-size="25.9" text-anchor="middle">0.5</text>
<text x="1692.1" y="1274.95" font-size="25.9" text-anchor="middle">0.6</text>
<text x="1834.8" y="1274.95" font-size="25.9" text-anchor="middle">0.7</text>
<text x="1977.6" y="1274.95" font-size="25.9" text-anchor="middle">0.8</text>
</g>
<g>
<text x="618.35" y="1446.3" font-size="38.7" text-anchor="middle" letter-spacing="0.3">Accuracy</text>
<rect x="313.7" y="1486.6" width="152.25" height="57.36" fill="#36106b"/>
<rect x="465.95" y="1486.6" width="152.25" height="57.36" fill="#942c80"/>
<rect x="618.2" y="1486.6" width="152.25" height="57.36" fill="#9e2f7f"/>
<rect x="770.45" y="1486.6" width="152.25" height="57.36" fill="#cf4070"/>
<rect x="313.7" y="1543.96" width="152.25" height="57.36" fill="#6e1e81"/>
<rect x="465.95" y="1543.96" width="152.25" height="57.36" fill="#cf4070"/>
<rect x="618.2" y="1543.96" width="152.25" height="57.36" fill="#fea973"/>
<rect x="770.45" y="1543.96" width="152.25" height="57.36" fill="#d8456c"/>
<rect x="313.7" y="1601.32" width="152.25" height="57.36" fill="#d8456c"/>
<rect x="465.95" y="1601.32" width="152.25" height="57.36" fill="#fed597"/>
<rect x="618.2" y="1601.32" width="152.25" height="57.36" fill="#fed597"/>
<rect x="770.45" y="1601.32" width="152.25" height="57.36" fill="#fd9266"/>
<rect x="313.7" y="1658.69" width="152.25" height="57.36" fill="#b2357b"/>
<rect x="465.95" y="1658.69" width="152.25" height="57.36" fill="#bc3978"/>
<rect x="618.2" y="1658.69" width="152.25" height="57.36" fill="#812581"/>
<rect x="770.45" y="1658.69" width="152.25" height="57.36" fill="#c53c74"/>
<rect x="313.7" y="1716.05" width="152.25" height="57.36" fill="#4a1079"/>
<rect x="465.95" y="1716.05" width="152.25" height="57.36" fill="#5d177f"/>
<rect x="618.2" y="1716.05" width="152.25" height="57.36" fill="#f7705c"/>
<rect x="770.45" y="1716.05" width="152.25" height="57.36" fill="#cf4070"/>
<rect x="313.7" y="1773.41" width="152.25" height="57.36" fill="#8b2981"/>
<rect x="465.95" y="1773.41" width="152.25" height="57.36" fill="#8b2981"/>
<rect x="618.2" y="1773.41" width="152.25" height="57.36" fill="#bc3978"/>
<rect x="770.45" y="1773.41" width="152.25" height="57.36" fill="#671b80"/>
<rect x="313.7" y="1830.78" width="152.25" height="57.36" fill="#000004"/>
<rect x="465.95" y="1830.78" width="152.25" height="57.36" fill="#a8327d"/>
<rect x="618.2" y="1830.78" width="152.25" height="57.36" fill="#f97b5d"/>
<rect x="770.45" y="1830.78" width="152.25" height="57.36" fill="#fb8761"/>
<rect x="313.7" y="1888.14" width="152.25" height="57.36" fill="#5d177f"/>
<rect x="465.95" y="1888.14" width="152.25" height="57.36" fill="#6e1e81"/>
<rect x="618.2" y="1888.14" width="152.25" height="57.36" fill="#9e2f7f"/>
<rect x="770.45" y="1888.14" width="152.25" height="57.36" fill="#9e2f7f"/>
<rect x="313.7" y="1945.5" width="152.25" height="57.36" fill="#a8327d"/>
<rect x="465.95" y="1945.5" width="152.25" height="57.36" fill="#5d177f"/>
<rect x="618.2" y="1945.5" width="152.25" height="57.36" fill="#f7705c"/>
<rect x="770.45" y="1945.5" width="152.25" height="57.36" fill="#ee5b5e"/>
<rect x="313.7" y="2002.86" width="152.25" height="57.36" fill="#671b80"/>
<rect x="465.95" y="2002.86" width="152.25" height="57.36" fill="#942c80"/>
<rect x="618.2" y="2002.86" width="152.25" height="57.36" fill="#a8327d"/>
<rect x="770.45" y="2002.86" width="152.25" height="57.36" fill="#a8327d"/>
<rect x="313.7" y="2060.22" width="152.25" height="57.36" fill="#4a1079"/>
<rect x="465.95" y="2060.22" width="152.25" height="57.36" fill="#e85362"/>
<rect x="618.2" y="2060.22" width="152.25" height="57.36" fill="#d8456c"/>
<rect x="770.45" y="2060.22" width="152.25" height="57.36" fill="#671b80"/>
<rect x="313.7" y="2117.59" width="152.25" height="57.36" fill="#5d177f"/>
<rect x="465.95" y="2117.59" width="152.25" height="57.36" fill="#fdebac"/>
<rect x="618.2" y="2117.59" width="152.25" height="57.36" fill="#feca8d"/>
<rect x="770.45" y="2117.59" width="152.25" height="57.36" fill="#fcfdbf"/>
<rect x="313.7" y="2174.95" width="152.25" height="57.36" fill="#000004"/>
<rect x="465.95" y="2174.95" width="152.25" height="57.36" fill="#942c80"/>
<rect x="618.2" y="2174.95" width="152.25" height="57.36" fill="#c53c74"/>
<rect x="770.45" y="2174.95" width="152.25" height="57.36" fill="#1a1042"/>
<rect x="313.7" y="2232.31" width="152.25" height="57.36" fill="#000004"/>
<rect x="465.95" y="2232.31" width="152.25" height="57.36" fill="#d8456c"/>
<rect x="618.2" y="2232.31" width="152.25" height="57.36" fill="#bc3978"/>
<rect x="770.45" y="2232.31" width="152.25" height="57.36" fill="#d8456c"/>
<rect x="313.7" y="2289.68" width="152.25" height="57.36" fill="#feb47b"/>
<rect x="465.95" y="2289.68" width="152.25" height="57.36" fill="#a8327d"/>
<rect x="618.2" y="2289.68" width="152.25" height="57.36" fill="#6e1e81"/>
<rect x="770.45" y="2289.68" width="152.25" height="57.36" fill="#36106b"/>
<rect x="313.7" y="2347.04" width="152.25" height="57.36" fill="#9e2f7f"/>
<rect x="465.95" y="2347.04" width="152.25" height="57.36" fill="#5d177f"/>
<rect x="618.2" y="2347.04" width="152.25" height="57.36" fill="#ee5b5e"/>
<rect x="770.45" y="2347.04" width="152.25" height="57.36" fill="#812581"/>
<path d="M465.95 1486.6V2404.4M618.2 1486.6V2404.4M770.45 1486.6V2404.4M313.7 1543.96H922.7M313.7 1601.32H922.7M313.7 1658.69H922.7M313.7 1716.05H922.7M313.7 1773.41H922.7M313.7 1830.78H922.7M313.7 1888.14H922.7M313.7 1945.5H922.7M313.7 2002.86H922.7M313.7 2060.22H922.7M313.7 2117.59H922.7M313.7 2174.95H922.7M313.7 2232.31H922.7M313.7 2289.68H922.7M313.7 2347.04H922.7" stroke="#000" stroke-width="3.49" fill="none"/>
<rect x="313.7" y="1486.6" width="609" height="917.8" fill="none" stroke="#000" stroke-width="4.59" stroke-linejoin="round"/>
<path d="M299.74 1515.28H313.7M299.74 1572.64H313.7M299.74 1630.01H313.7M299.74 1687.37H313.7M299.74 1744.73H313.7M299.74 1802.09H313.7M299.74 1859.46H313.7M299.74 1916.82H313.7M299.74 1974.18H313.7M299.74 2031.54H313.7M299.74 2088.91H313.7M299.74 2146.27H313.7M299.74 2203.63H313.7M299.74 2260.99H313.7M299.74 2318.36H313.7M299.74 2375.72H313.7M389.82 2404.4V2418.07M542.07 2404.4V2418.07M694.33 2404.4V2418.07M846.58 2404.4V2418.07" stroke="#000" stroke-width="4.69" fill="none"/>
<text x="296.55" y="1522.57" font-size="23.46" text-anchor="end">Medical material</text>
<text x="296.55" y="1579.93" font-size="23.46" text-anchor="end">Calcification</text>
<text x="296.55" y="1637.29" font-size="23.46" text-anchor="end">Cardiomegaly</text>
<text x="296.55" y="1694.65" font-size="23.46" text-anchor="end">Pericardial effusion</text>
<text x="296.55" y="1752.02" font-size="23.46" text-anchor="end">Hiatal hernia</text>
<text x="296.55" y="1809.38" font-size="23.46" text-anchor="end">Lymphadenopathy</text>
<text x="296.55" y="1866.74" font-size="23.46" text-anchor="end">Emphysema</text>
<text x="296.55" y="1924.1" font-size="23.46" text-anchor="end">Atelectasis</text>
<text x="296.55" y="1981.47" font-size="23.46" text-anchor="end">Lung nodule</text>
<text x="296.55" y="2038.83" font-size="23.46" text-anchor="end">Lung opacity</text>
<text x="296.55" y="2096.19" font-size="23.46" text-anchor="end">Pulmonary fibrotic sequela</text>
<text x="296.55" y="2153.55" font-size="23.46" text-anchor="end">Pleural effusion</text>
<text x="296.55" y="2210.92" font-size="23.46" text-anchor="end">Peribronchial thickening</text>
<text x="296.55" y="2268.28" font-size="23.46" text-anchor="end">Consolidation</text>
<text x="296.55" y="2325.64" font-size="23.46" text-anchor="end">Bronchiectasis</text>
<text x="296.55" y="2383" font-size="23.46" text-anchor="end">Interlobular septal thickening</text>
<text x="389.82" y="1523.96" font-size="25.73" text-anchor="middle" class="w">0.46</text>
<text x="542.07" y="1523.96" font-size="25.73" text-anchor="middle" class="w">0.56</text>
<text x="694.33" y="1523.96" font-size="25.73" text-anchor="middle" class="w">0.57</text>
<text x="846.58" y="1523.96" font-size="25.73" text-anchor="middle">0.62</text>
<text x="389.82" y="1581.33" font-size="25.73" text-anchor="middle" class="w">0.52</text>
<text x="542.07" y="1581.33" font-size="25.73" text-anchor="middle">0.62</text>
<text x="694.33" y="1581.33" font-size="25.73" text-anchor="middle">0.73</text>
<text x="846.58" y="1581.33" font-size="25.73" text-anchor="middle">0.63</text>
<text x="389.82" y="1638.69" font-size="25.73" text-anchor="middle">0.63</text>
<text x="542.07" y="1638.69" font-size="25.73" text-anchor="middle">0.77</text>
<text x="694.33" y="1638.69" font-size="25.73" text-anchor="middle">0.77</text>
<text x="846.58" y="1638.69" font-size="25.73" text-anchor="middle">0.71</text>
<text x="389.82" y="1696.05" font-size="25.73" text-anchor="middle" class="w">0.59</text>
<text x="542.07" y="1696.05" font-size="25.73" text-anchor="middle" class="w">0.60</text>
<text x="694.33" y="1696.05" font-size="25.73" text-anchor="middle" class="w">0.54</text>
<text x="846.58" y="1696.05" font-size="25.73" text-anchor="middle" class="w">0.61</text>
<text x="389.82" y="1753.41" font-size="25.73" text-anchor="middle" class="w">0.48</text>
<text x="542.07" y="1753.41" font-size="25.73" text-anchor="middle" class="w">0.50</text>
<text x="694.33" y="1753.41" font-size="25.73" text-anchor="middle">0.68</text>
<text x="846.58" y="1753.41" font-size="25.73" text-anchor="middle">0.62</text>
<text x="389.82" y="1810.78" font-size="25.73" text-anchor="middle" class="w">0.55</text>
<text x="542.07" y="1810.78" font-size="25.73" text-anchor="middle" class="w">0.55</text>
<text x="694.33" y="1810.78" font-size="25.73" text-anchor="middle" class="w">0.60</text>
<text x="846.58" y="1810.78" font-size="25.73" text-anchor="middle" class="w">0.51</text>
<text x="389.82" y="1868.14" font-size="25.73" text-anchor="middle" class="w">0.38</text>
<text x="542.07" y="1868.14" font-size="25.73" text-anchor="middle" class="w">0.58</text>
<text x="694.33" y="1868.14" font-size="25.73" text-anchor="middle">0.69</text>
<text x="846.58" y="1868.14" font-size="25.73" text-anchor="middle">0.70</text>
<text x="389.82" y="1925.5" font-size="25.73" text-anchor="middle" class="w">0.50</text>
<text x="542.07" y="1925.5" font-size="25.73" text-anchor="middle" class="w">0.52</text>
<text x="694.33" y="1925.5" font-size="25.73" text-anchor="middle" class="w">0.57</text>
<text x="846.58" y="1925.5" font-size="25.73" text-anchor="middle" class="w">0.57</text>
<text x="389.82" y="1982.86" font-size="25.73" text-anchor="middle" class="w">0.58</text>
<text x="542.07" y="1982.86" font-size="25.73" text-anchor="middle" class="w">0.50</text>
<text x="694.33" y="1982.86" font-size="25.73" text-anchor="middle">0.68</text>
<text x="846.58" y="1982.86" font-size="25.73" text-anchor="middle">0.66</text>
<text x="389.82" y="2040.23" font-size="25.73" text-anchor="middle" class="w">0.51</text>
<text x="542.07" y="2040.23" font-size="25.73" text-anchor="middle" class="w">0.56</text>
<text x="694.33" y="2040.23" font-size="25.73" text-anchor="middle" class="w">0.58</text>
<text x="846.58" y="2040.23" font-size="25.73" text-anchor="middle" class="w">0.58</text>
<text x="389.82" y="2097.59" font-size="25.73" text-anchor="middle" class="w">0.48</text>
<text x="542.07" y="2097.59" font-size="25.73" text-anchor="middle">0.65</text>
<text x="694.33" y="2097.59" font-size="25.73" text-anchor="middle">0.63</text>
<text x="846.58" y="2097.59" font-size="25.73" text-anchor="middle" class="w">0.51</text>
<text x="389.82" y="2154.95" font-size="25.73" text-anchor="middle" class="w">0.50</text>
<text x="542.07" y="2154.95" font-size="25.73" text-anchor="middle">0.79</text>
<text x="694.33" y="2154.95" font-size="25.73" text-anchor="middle">0.76</text>
<text x="846.58" y="2154.95" font-size="25.73" text-anchor="middle">0.81</text>
<text x="389.82" y="2212.31" font-size="25.73" text-anchor="middle" class="w">0.38</text>
<text x="542.07" y="2212.31" font-size="25.73" text-anchor="middle" class="w">0.56</text>
<text x="694.33" y="2212.31" font-size="25.73" text-anchor="middle" class="w">0.61</text>
<text x="846.58" y="2212.31" font-size="25.73" text-anchor="middle" class="w">0.43</text>
<text x="389.82" y="2269.68" font-size="25.73" text-anchor="middle" class="w">0.38</text>
<text x="542.07" y="2269.68" font-size="25.73" text-anchor="middle">0.63</text>
<text x="694.33" y="2269.68" font-size="25.73" text-anchor="middle" class="w">0.60</text>
<text x="846.58" y="2269.68" font-size="25.73" text-anchor="middle">0.63</text>
<text x="389.82" y="2327.04" font-size="25.73" text-anchor="middle">0.74</text>
<text x="542.07" y="2327.04" font-size="25.73" text-anchor="middle" class="w">0.58</text>
<text x="694.33" y="2327.04" font-size="25.73" text-anchor="middle" class="w">0.52</text>
<text x="846.58" y="2327.04" font-size="25.73" text-anchor="middle" class="w">0.46</text>
<text x="389.82" y="2384.4" font-size="25.73" text-anchor="middle" class="w">0.57</text>
<text x="542.07" y="2384.4" font-size="25.73" text-anchor="middle" class="w">0.50</text>
<text x="694.33" y="2384.4" font-size="25.73" text-anchor="middle">0.66</text>
<text x="846.58" y="2384.4" font-size="25.73" text-anchor="middle" class="w">0.54</text>
<text transform="translate(399.79 2437.73) rotate(-45)" font-size="23.77" text-anchor="end">Supervised (Baseline)</text>
<text transform="translate(550.95 2437.73) rotate(-45)" font-size="23.77" text-anchor="end">CT-CLIP (Zero-shot)</text>
<text transform="translate(702.5 2437.73) rotate(-45)" font-size="23.77" text-anchor="end">CT-CLIP (VocabFine)</text>
<text transform="translate(855.25 2437.73) rotate(-45)" font-size="23.77" text-anchor="end">CT-CLIP (ClassFine)</text>
<rect x="304.98" y="2616.41" width="607.9" height="38.22" fill="url(#mg)"/>
<path d="M309.5 2616.41V2654.63M311.5 2616.41V2654.63M316.5 2616.41V2654.63M318.5 2616.41V2654.63M320.5 2616.41V2654.63M324.5 2616.41V2654.63M326.5 2616.41V2654.63M331.5 2616.41V2654.63M333.5 2616.41V2654.63M337.5 2616.41V2654.63M341.5 2616.41V2654.63M343.5 2616.41V2654.63M345.5 2616.41V2654.63M350.5 2616.41V2654.63M355.5 2616.41V2654.63M357.5 2616.41V2654.63M361.5 2616.41V2654.63M363.5 2616.41V2654.63M367.5 2616.41V2654.63M372.5 2616.41V2654.63M374.5 2616.41V2654.63M376.5 2616.41V2654.63M380.5 2616.41V2654.63M382.5 2616.41V2654.63M387.5 2616.41V2654.63M389.5 2616.41V2654.63M393.5 2616.41V2654.63M395.5 2616.41V2654.63M399.5 2616.41V2654.63M401.5 2616.41V2654.63M405.5 2616.41V2654.63M410.5 2616.41V2654.63M412.5 2616.41V2654.63M416.5 2616.41V2654.63M418.5 2616.41V2654.63M422.5 2616.41V2654.63M426.5 2616.41V2654.63M428.5 2616.41V2654.63M430.5 2616.41V2654.63M434.5 2616.41V2654.63M439.5 2616.41V2654.63M441.5 2616.41V2654.63M445.5 2616.41V2654.63M447.5 2616.41V2654.63M449.5 2616.41V2654.63M453.5 2616.41V2654.63M455.5 2616.41V2654.63M459.5 2616.41V2654.63M464.5 2616.41V2654.63M469.5 2616.41V2654.63M471.5 2616.41V2654.63M473.5 2616.41V2654.63M478.5 2616.41V2654.63M482.5 2616.41V2654.63M486.5 2616.41V2654.63M488.5 2616.41V2654.63M492.5 2616.41V2654.63M494.5 2616.41V2654.63M498.5 2616.41V2654.63M502.5 2616.41V2654.63M504.5 2616.41V2654.63M509.5 2616.41V2654.63M511.5 2616.41V2654.63M515.5 2616.41V2654.63M517.5 2616.41V2654.63M519.5 2616.41V2654.63M523.5 2616.41V2654.63M528.5 2616.41V2654.63M530.5 2616.41V2654.63M535.5 2616.41V2654.63M537.5 2616.41V2654.63M539.5 2616.41V2654.63M544.5 2616.41V2654.63M546.5 2616.41V2654.63M548.5 2616.41V2654.63M552.5 2616.41V2654.63M557.5 2616.41V2654.63M562.5 2616.41V2654.63M567.5 2616.41V2654.63M569.5 2616.41V2654.63M571.5 2616.41V2654.63M573.5 2616.41V2654.63M575.5 2616.41V2654.63M579.5 2616.41V2654.63M581.5 2616.41V2654.63M583.5 2616.41V2654.63M585.5 2616.41V2654.63M589.5 2616.41V2654.63M591.5 2616.41V2654.63M595.5 2616.41V2654.63M600.5 2616.41V2654.63M605.5 2616.41V2654.63M607.5 2616.41V2654.63M609.5 2616.41V2654.63M614.5 2616.41V2654.63M616.5 2616.41V2654.63M618.5 2616.41V2654.63M620.5 2616.41V2654.63M622.5 2616.41V2654.63M626.5 2616.41V2654.63M630.5 2616.41V2654.63M632.5 2616.41V2654.63M636.5 2616.41V2654.63M641.5 2616.41V2654.63M646.5 2616.41V2654.63M648.5 2616.41V2654.63M650.5 2616.41V2654.63M652.5 2616.41V2654.63M654.5 2616.41V2654.63M659.5 2616.41V2654.63M663.5 2616.41V2654.63M667.5 2616.41V2654.63M669.5 2616.41V2654.63M674.5 2616.41V2654.63M678.5 2616.41V2654.63M682.5 2616.41V2654.63M687.5 2616.41V2654.63M692.5 2616.41V2654.63M697.5 2616.41V2654.63M701.5 2616.41V2654.63M703.5 2616.41V2654.63M705.5 2616.41V2654.63M707.5 2616.41V2654.63M709.5 2616.41V2654.63M713.5 2616.41V2654.63M717.5 2616.41V2654.63M719.5 2616.41V2654.63M721.5 2616.41V2654.63M723.5 2616.41V2654.63M727.5 2616.41V2654.63M731.5 2616.41V2654.63M733.5 2616.41V2654.63M735.5 2616.41V2654.63M740.5 2616.41V2654.63M744.5 2616.41V2654.63M749.5 2616.41V2654.63M754.5 2616.41V2654.63M756.5 2616.41V2654.63M760.5 2616.41V2654.63M762.5 2616.41V2654.63M764.5 2616.41V2654.63M768.5 2616.41V2654.63M773.5 2616.41V2654.63M778.5 2616.41V2654.63M783.5 2616.41V2654.63M788.5 2616.41V2654.63M790.5 2616.41V2654.63M792.5 2616.41V2654.63M797.5 2616.41V2654.63M799.5 2616.41V2654.63M803.5 2616.41V2654.63M805.5 2616.41V2654.63M809.5 2616.41V2654.63M811.5 2616.41V2654.63M813.5 2616.41V2654.63M815.5 2616.41V2654.63M820.5 2616.41V2654.63M822.5 2616.41V2654.63M824.5 2616.41V2654.63M826.5 2616.41V2654.63M828.5 2616.41V2654.63M832.5 2616.41V2654.63M834.5 2616.41V2654.63M839.5 2616.41V2654.63M841.5 2616.41V2654.63M843.5 2616.41V2654.63M847.5 2616.41V2654.63M852.5 2616.41V2654.63M854.5 2616.41V2654.63M858.5 2616.41V2654.63M863.5 2616.41V2654.63M868.5 2616.41V2654.63M870.5 2616.41V2654.63M872.5 2616.41V2654.63M874.5 2616.41V2654.63M876.5 2616.41V2654.63M878.5 2616.41V2654.63M880.5 2616.41V2654.63M882.5 2616.41V2654.63M886.5 2616.41V2654.63M888.5 2616.41V2654.63M890.5 2616.41V2654.63M892.5 2616.41V2654.63M897.5 2616.41V2654.63M901.5 2616.41V2654.63M903.5 2616.41V2654.63M905.5 2616.41V2654.63M909.5 2616.41V2654.63" stroke="#fff" stroke-opacity="0.16" stroke-width="1" fill="none"/>
<rect x="304.98" y="2616.41" width="607.9" height="38.22" rx="1.4" fill="none" stroke="#000" stroke-width="3.29"/>
<path d="M333.5 2616.41v7.63M333.5 2654.63v-7.63M476 2616.41v7.63M476 2654.63v-7.63M618.3 2616.41v7.63M618.3 2654.63v-7.63M760.5 2616.41v7.63M760.5 2654.63v-7.63M902.7 2616.41v7.63M902.7 2654.63v-7.63" stroke="#000" stroke-width="3.39" fill="none"/>
<text x="333.5" y="2686.22" font-size="25.73" text-anchor="middle">0.4</text>
<text x="476" y="2686.22" font-size="25.73" text-anchor="middle">0.5</text>
<text x="618.3" y="2686.22" font-size="25.73" text-anchor="middle">0.6</text>
<text x="760.5" y="2686.22" font-size="25.73" text-anchor="middle">0.7</text>
<text x="902.7" y="2686.22" font-size="25.73" text-anchor="middle">0.8</text>
</g>
<g>
<text x="1708.43" y="1448.9" font-size="39.2" text-anchor="middle" letter-spacing="0.55">Precision</text>
<rect x="1399.8" y="1489" width="154.18" height="58.14" fill="#671b80"/>
<rect x="1553.97" y="1489" width="154.18" height="58.14" fill="#802582"/>
<rect x="1708.15" y="1489" width="154.18" height="58.14" fill="#862781"/>
<rect x="1862.33" y="1489" width="154.18" height="58.14" fill="#9b2e7f"/>
<rect x="1399.8" y="1547.14" width="154.18" height="58.14" fill="#fea973"/>
<rect x="1553.97" y="1547.14" width="154.18" height="58.14" fill="#fecd90"/>
<rect x="1708.15" y="1547.14" width="154.18" height="58.14" fill="#fed89a"/>
<rect x="1862.33" y="1547.14" width="154.18" height="58.14" fill="#fecd90"/>
<rect x="1399.8" y="1605.29" width="154.18" height="58.14" fill="#19103f"/>
<rect x="1553.97" y="1605.29" width="154.18" height="58.14" fill="#3d0f71"/>
<rect x="1708.15" y="1605.29" width="154.18" height="58.14" fill="#52137c"/>
<rect x="1862.33" y="1605.29" width="154.18" height="58.14" fill="#38106c"/>
<rect x="1399.8" y="1663.43" width="154.18" height="58.14" fill="#19103f"/>
<rect x="1553.97" y="1663.43" width="154.18" height="58.14" fill="#271258"/>
<rect x="1708.15" y="1663.43" width="154.18" height="58.14" fill="#1d1147"/>
<rect x="1862.33" y="1663.43" width="154.18" height="58.14" fill="#2c115f"/>
<rect x="1399.8" y="1721.58" width="154.18" height="58.14" fill="#040414"/>
<rect x="1553.97" y="1721.58" width="154.18" height="58.14" fill="#0d0a29"/>
<rect x="1708.15" y="1721.58" width="154.18" height="58.14" fill="#21114e"/>
<rect x="1862.33" y="1721.58" width="154.18" height="58.14" fill="#110c2f"/>
<rect x="1399.8" y="1779.72" width="154.18" height="58.14" fill="#271258"/>
<rect x="1553.97" y="1779.72" width="154.18" height="58.14" fill="#271258"/>
<rect x="1708.15" y="1779.72" width="154.18" height="58.14" fill="#2c115f"/>
<rect x="1862.33" y="1779.72" width="154.18" height="58.14" fill="#271258"/>
<rect x="1399.8" y="1837.86" width="154.18" height="58.14" fill="#3d0f71"/>
<rect x="1553.97" y="1837.86" width="154.18" height="58.14" fill="#762181"/>
<rect x="1708.15" y="1837.86" width="154.18" height="58.14" fill="#a5317e"/>
<rect x="1862.33" y="1837.86" width="154.18" height="58.14" fill="#a5317e"/>
<rect x="1399.8" y="1896.01" width="154.18" height="58.14" fill="#621980"/>
<rect x="1553.97" y="1896.01" width="154.18" height="58.14" fill="#721f81"/>
<rect x="1708.15" y="1896.01" width="154.18" height="58.14" fill="#7b2382"/>
<rect x="1862.33" y="1896.01" width="154.18" height="58.14" fill="#7b2382"/>
<rect x="1399.8" y="1954.15" width="154.18" height="58.14" fill="#fde5a7"/>
<rect x="1553.97" y="1954.15" width="154.18" height="58.14" fill="#fddea0"/>
<rect x="1708.15" y="1954.15" width="154.18" height="58.14" fill="#fcfdbf"/>
<rect x="1862.33" y="1954.15" width="154.18" height="58.14" fill="#fcfdbf"/>
<rect x="1399.8" y="2012.29" width="154.18" height="58.14" fill="#d9466b"/>
<rect x="1553.97" y="2012.29" width="154.18" height="58.14" fill="#ed5a5f"/>
<rect x="1708.15" y="2012.29" width="154.18" height="58.14" fill="#f1605d"/>
<rect x="1862.33" y="2012.29" width="154.18" height="58.14" fill="#f1605d"/>
<rect x="1399.8" y="2070.44" width="154.18" height="58.14" fill="#000004"/>
<rect x="1553.97" y="2070.44" width="154.18" height="58.14" fill="#1d1147"/>
<rect x="1708.15" y="2070.44" width="154.18" height="58.14" fill="#040414"/>
<rect x="1862.33" y="2070.44" width="154.18" height="58.14" fill="#02020d"/>
<rect x="1399.8" y="2128.58" width="154.18" height="58.14" fill="#311165"/>
<rect x="1553.97" y="2128.58" width="154.18" height="58.14" fill="#b5367a"/>
<rect x="1708.15" y="2128.58" width="154.18" height="58.14" fill="#a02f7f"/>
<rect x="1862.33" y="2128.58" width="154.18" height="58.14" fill="#c53c74"/>
<rect x="1399.8" y="2186.73" width="154.18" height="58.14" fill="#000004"/>
<rect x="1553.97" y="2186.73" width="154.18" height="58.14" fill="#010108"/>
<rect x="1708.15" y="2186.73" width="154.18" height="58.14" fill="#010108"/>
<rect x="1862.33" y="2186.73" width="154.18" height="58.14" fill="#010108"/>
<rect x="1399.8" y="2244.87" width="154.18" height="58.14" fill="#0a0822"/>
<rect x="1553.97" y="2244.87" width="154.18" height="58.14" fill="#2c115f"/>
<rect x="1708.15" y="2244.87" width="154.18" height="58.14" fill="#21114e"/>
<rect x="1862.33" y="2244.87" width="154.18" height="58.14" fill="#2c115f"/>
<rect x="1399.8" y="2303.01" width="154.18" height="58.14" fill="#110c2f"/>
<rect x="1553.97" y="2303.01" width="154.18" height="58.14" fill="#150e38"/>
<rect x="1708.15" y="2303.01" width="154.18" height="58.14" fill="#0d0a29"/>
<rect x="1862.33" y="2303.01" width="154.18" height="58.14" fill="#06051a"/>
<rect x="1399.8" y="2361.16" width="154.18" height="58.14" fill="#02020d"/>
<rect x="1553.97" y="2361.16" width="154.18" height="58.14" fill="#010108"/>
<rect x="1708.15" y="2361.16" width="154.18" height="58.14" fill="#06051a"/>
<rect x="1862.33" y="2361.16" width="154.18" height="58.14" fill="#02020d"/>
<path d="M1553.97 1489V2419.3M1708.15 1489V2419.3M1862.33 1489V2419.3M1399.8 1547.14H2016.5M1399.8 1605.29H2016.5M1399.8 1663.43H2016.5M1399.8 1721.58H2016.5M1399.8 1779.72H2016.5M1399.8 1837.86H2016.5M1399.8 1896.01H2016.5M1399.8 1954.15H2016.5M1399.8 2012.29H2016.5M1399.8 2070.44H2016.5M1399.8 2128.58H2016.5M1399.8 2186.73H2016.5M1399.8 2244.87H2016.5M1399.8 2303.01H2016.5M1399.8 2361.16H2016.5" stroke="#000" stroke-width="3.54" fill="none"/>
<rect x="1399.8" y="1489" width="616.7" height="930.3" fill="none" stroke="#000" stroke-width="4.65" stroke-linejoin="round"/>
<path d="M1385.67 1518.07H1399.8M1385.67 1576.22H1399.8M1385.67 1634.36H1399.8M1385.67 1692.5H1399.8M1385.67 1750.65H1399.8M1385.67 1808.79H1399.8M1385.67 1866.93H1399.8M1385.67 1925.08H1399.8M1385.67 1983.22H1399.8M1385.67 2041.37H1399.8M1385.67 2099.51H1399.8M1385.67 2157.65H1399.8M1385.67 2215.8H1399.8M1385.67 2273.94H1399.8M1385.67 2332.08H1399.8M1385.67 2390.23H1399.8M1476.89 2419.3V2433.76M1631.06 2419.3V2433.76M1785.24 2419.3V2433.76M1939.41 2419.3V2433.76" stroke="#000" stroke-width="4.75" fill="none"/>
<text x="1382.44" y="1525.46" font-size="23.76" text-anchor="end">Medical material</text>
<text x="1382.44" y="1583.6" font-size="23.76" text-anchor="end">Calcification</text>
<text x="1382.44" y="1641.74" font-size="23.76" text-anchor="end">Cardiomegaly</text>
<text x="1382.44" y="1699.89" font-size="23.76" text-anchor="end">Pericardial effusion</text>
<text x="1382.44" y="1758.03" font-size="23.76" text-anchor="end">Hiatal hernia</text>
<text x="1382.44" y="1816.17" font-size="23.76" text-anchor="end">Lymphadenopathy</text>
<text x="1382.44" y="1874.32" font-size="23.76" text-anchor="end">Emphysema</text>
<text x="1382.44" y="1932.46" font-size="23.76" text-anchor="end">Atelectasis</text>
<text x="1382.44" y="1990.61" font-size="23.76" text-anchor="end">Lung nodule</text>
<text x="1382.44" y="2048.75" font-size="23.76" text-anchor="end">Lung opacity</text>
<text x="1382.44" y="2106.89" font-size="23.76" text-anchor="end">Pulmonary fibrotic sequela</text>
<text x="1382.44" y="2165.04" font-size="23.76" text-anchor="end">Pleural effusion</text>
<text x="1382.44" y="2223.18" font-size="23.76" text-anchor="end">Peribronchial thickening</text>
<text x="1382.44" y="2281.32" font-size="23.76" text-anchor="end">Consolidation</text>
<text x="1382.44" y="2339.47" font-size="23.76" text-anchor="end">Bronchiectasis</text>
<text x="1382.44" y="2397.61" font-size="23.76" text-anchor="end">Interlobular septal thickening</text>
<text x="1476.89" y="1526.87" font-size="26.06" text-anchor="middle" class="w">0.33</text>
<text x="1631.06" y="1526.87" font-size="26.06" text-anchor="middle" class="w">0.38</text>
<text x="1785.24" y="1526.87" font-size="26.06" text-anchor="middle" class="w">0.39</text>
<text x="1939.41" y="1526.87" font-size="26.06" text-anchor="middle" class="w">0.43</text>
<text x="1476.89" y="1585.02" font-size="26.06" text-anchor="middle">0.73</text>
<text x="1631.06" y="1585.02" font-size="26.06" text-anchor="middle">0.79</text>
<text x="1785.24" y="1585.02" font-size="26.06" text-anchor="middle">0.81</text>
<text x="1939.41" y="1585.02" font-size="26.06" text-anchor="middle">0.79</text>
<text x="1476.89" y="1643.16" font-size="26.06" text-anchor="middle" class="w">0.18</text>
<text x="1631.06" y="1643.16" font-size="26.06" text-anchor="middle" class="w">0.25</text>
<text x="1785.24" y="1643.16" font-size="26.06" text-anchor="middle" class="w">0.29</text>
<text x="1939.41" y="1643.16" font-size="26.06" text-anchor="middle" class="w">0.24</text>
<text x="1476.89" y="1701.3" font-size="26.06" text-anchor="middle" class="w">0.18</text>
<text x="1631.06" y="1701.3" font-size="26.06" text-anchor="middle" class="w">0.21</text>
<text x="1785.24" y="1701.3" font-size="26.06" text-anchor="middle" class="w">0.19</text>
<text x="1939.41" y="1701.3" font-size="26.06" text-anchor="middle" class="w">0.22</text>
<text x="1476.89" y="1759.45" font-size="26.06" text-anchor="middle" class="w">0.12</text>
<text x="1631.06" y="1759.45" font-size="26.06" text-anchor="middle" class="w">0.15</text>
<text x="1785.24" y="1759.45" font-size="26.06" text-anchor="middle" class="w">0.20</text>
<text x="1939.41" y="1759.45" font-size="26.06" text-anchor="middle" class="w">0.16</text>
<text x="1476.89" y="1817.59" font-size="26.06" text-anchor="middle" class="w">0.21</text>
<text x="1631.06" y="1817.59" font-size="26.06" text-anchor="middle" class="w">0.21</text>
<text x="1785.24" y="1817.59" font-size="26.06" text-anchor="middle" class="w">0.22</text>
<text x="1939.41" y="1817.59" font-size="26.06" text-anchor="middle" class="w">0.21</text>
<text x="1476.89" y="1875.73" font-size="26.06" text-anchor="middle" class="w">0.25</text>
<text x="1631.06" y="1875.73" font-size="26.06" text-anchor="middle" class="w">0.36</text>
<text x="1785.24" y="1875.73" font-size="26.06" text-anchor="middle" class="w">0.45</text>
<text x="1939.41" y="1875.73" font-size="26.06" text-anchor="middle" class="w">0.45</text>
<text x="1476.89" y="1933.88" font-size="26.06" text-anchor="middle" class="w">0.32</text>
<text x="1631.06" y="1933.88" font-size="26.06" text-anchor="middle" class="w">0.35</text>
<text x="1785.24" y="1933.88" font-size="26.06" text-anchor="middle" class="w">0.37</text>
<text x="1939.41" y="1933.88" font-size="26.06" text-anchor="middle" class="w">0.37</text>
<text x="1476.89" y="1992.02" font-size="26.06" text-anchor="middle">0.83</text>
<text x="1631.06" y="1992.02" font-size="26.06" text-anchor="middle">0.82</text>
<text x="1785.24" y="1992.02" font-size="26.06" text-anchor="middle">0.87</text>
<text x="1939.41" y="1992.02" font-size="26.06" text-anchor="middle">0.87</text>
<text x="1476.89" y="2050.17" font-size="26.06" text-anchor="middle">0.55</text>
<text x="1631.06" y="2050.17" font-size="26.06" text-anchor="middle">0.60</text>
<text x="1785.24" y="2050.17" font-size="26.06" text-anchor="middle">0.61</text>
<text x="1939.41" y="2050.17" font-size="26.06" text-anchor="middle">0.61</text>
<text x="1476.89" y="2108.31" font-size="26.06" text-anchor="middle" class="w">0.09</text>
<text x="1631.06" y="2108.31" font-size="26.06" text-anchor="middle" class="w">0.19</text>
<text x="1785.24" y="2108.31" font-size="26.06" text-anchor="middle" class="w">0.12</text>
<text x="1939.41" y="2108.31" font-size="26.06" text-anchor="middle" class="w">0.11</text>
<text x="1476.89" y="2166.45" font-size="26.06" text-anchor="middle" class="w">0.23</text>
<text x="1631.06" y="2166.45" font-size="26.06" text-anchor="middle" class="w">0.48</text>
<text x="1785.24" y="2166.45" font-size="26.06" text-anchor="middle" class="w">0.44</text>
<text x="1939.41" y="2166.45" font-size="26.06" text-anchor="middle" class="w">0.51</text>
<text x="1476.89" y="2224.6" font-size="26.06" text-anchor="middle" class="w">0.09</text>
<text x="1631.06" y="2224.6" font-size="26.06" text-anchor="middle" class="w">0.10</text>
<text x="1785.24" y="2224.6" font-size="26.06" text-anchor="middle" class="w">0.10</text>
<text x="1939.41" y="2224.6" font-size="26.06" text-anchor="middle" class="w">0.10</text>
<text x="1476.89" y="2282.74" font-size="26.06" text-anchor="middle" class="w">0.14</text>
<text x="1631.06" y="2282.74" font-size="26.06" text-anchor="middle" class="w">0.22</text>
<text x="1785.24" y="2282.74" font-size="26.06" text-anchor="middle" class="w">0.20</text>
<text x="1939.41" y="2282.74" font-size="26.06" text-anchor="middle" class="w">0.22</text>
<text x="1476.89" y="2340.88" font-size="26.06" text-anchor="middle" class="w">0.16</text>
<text x="1631.06" y="2340.88" font-size="26.06" text-anchor="middle" class="w">0.17</text>
<text x="1785.24" y="2340.88" font-size="26.06" text-anchor="middle" class="w">0.15</text>
<text x="1939.41" y="2340.88" font-size="26.06" text-anchor="middle" class="w">0.13</text>
<text x="1476.89" y="2399.03" font-size="26.06" text-anchor="middle" class="w">0.11</text>
<text x="1631.06" y="2399.03" font-size="26.06" text-anchor="middle" class="w">0.10</text>
<text x="1785.24" y="2399.03" font-size="26.06" text-anchor="middle" class="w">0.13</text>
<text x="1939.41" y="2399.03" font-size="26.06" text-anchor="middle" class="w">0.11</text>
<text transform="translate(1487.58 2453.08) rotate(-45)" font-size="24.27" text-anchor="end">Supervised (Baseline)</text>
<text transform="translate(1640.65 2453.08) rotate(-45)" font-size="24.27" text-anchor="end">CT-CLIP (Zero-shot)</text>
<text transform="translate(1794.12 2453.08) rotate(-45)" font-size="24.27" text-anchor="end">CT-CLIP (VocabFine)</text>
<text transform="translate(1948.8 2453.08) rotate(-45)" font-size="24.27" text-anchor="end">CT-CLIP (ClassFine)</text>
<rect x="1390.97" y="2633.2" width="617.09" height="38.74" fill="url(#mg)"/>
<path d="M1395.5 2633.2V2671.94M1397.5 2633.2V2671.94M1402.5 2633.2V2671.94M1404.5 2633.2V2671.94M1406.5 2633.2V2671.94M1410.5 2633.2V2671.94M1412.5 2633.2V2671.94M1417.5 2633.2V2671.94M1419.5 2633.2V2671.94M1423.5 2633.2V2671.94M1427.5 2633.2V2671.94M1429.5 2633.2V2671.94M1431.5 2633.2V2671.94M1436.5 2633.2V2671.94M1441.5 2633.2V2671.94M1443.5 2633.2V2671.94M1447.5 2633.2V2671.94M1449.5 2633.2V2671.94M1453.5 2633.2V2671.94M1458.5 2633.2V2671.94M1460.5 2633.2V2671.94M1462.5 2633.2V2671.94M1466.5 2633.2V2671.94M1468.5 2633.2V2671.94M1473.5 2633.2V2671.94M1475.5 2633.2V2671.94M1479.5 2633.2V2671.94M1481.5 2633.2V2671.94M1485.5 2633.2V2671.94M1487.5 2633.2V2671.94M1491.5 2633.2V2671.94M1496.5 2633.2V2671.94M1498.5 2633.2V2671.94M1502.5 2633.2V2671.94M1504.5 2633.2V2671.94M1508.5 2633.2V2671.94M1512.5 2633.2V2671.94M1514.5 2633.2V2671.94M1516.5 2633.2V2671.94M1520.5 2633.2V2671.94M1525.5 2633.2V2671.94M1527.5 2633.2V2671.94M1531.5 2633.2V2671.94M1533.5 2633.2V2671.94M1535.5 2633.2V2671.94M1539.5 2633.2V2671.94M1541.5 2633.2V2671.94M1545.5 2633.2V2671.94M1550.5 2633.2V2671.94M1555.5 2633.2V2671.94M1557.5 2633.2V2671.94M1559.5 2633.2V2671.94M1564.5 2633.2V2671.94M1568.5 2633.2V2671.94M1572.5 2633.2V2671.94M1574.5 2633.2V2671.94M1578.5 2633.2V2671.94M1580.5 2633.2V2671.94M1584.5 2633.2V2671.94M1588.5 2633.2V2671.94M1590.5 2633.2V2671.94M1595.5 2633.2V2671.94M1597.5 2633.2V2671.94M1601.5 2633.2V2671.94M1603.5 2633.2V2671.94M1605.5 2633.2V2671.94M1609.5 2633.2V2671.94M1614.5 2633.2V2671.94M1616.5 2633.2V2671.94M1621.5 2633.2V2671.94M1623.5 2633.2V2671.94M1625.5 2633.2V2671.94M1630.5 2633.2V2671.94M1632.5 2633.2V2671.94M1634.5 2633.2V2671.94M1638.5 2633.2V2671.94M1643.5 2633.2V2671.94M1648.5 2633.2V2671.94M1653.5 2633.2V2671.94M1655.5 2633.2V2671.94M1657.5 2633.2V2671.94M1659.5 2633.2V2671.94M1661.5 2633.2V2671.94M1665.5 2633.2V2671.94M1667.5 2633.2V2671.94M1669.5 2633.2V2671.94M1671.5 2633.2V2671.94M1675.5 2633.2V2671.94M1677.5 2633.2V2671.94M1681.5 2633.2V2671.94M1686.5 2633.2V2671.94M1691.5 2633.2V2671.94M1693.5 2633.2V2671.94M1695.5 2633.2V2671.94M1700.5 2633.2V2671.94M1702.5 2633.2V2671.94M1704.5 2633.2V2671.94M1706.5 2633.2V2671.94M1708.5 2633.2V2671.94M1712.5 2633.2V2671.94M1716.5 2633.2V2671.94M1718.5 2633.2V2671.94M1722.5 2633.2V2671.94M1727.5 2633.2V2671.94M1732.5 2633.2V2671.94M1734.5 2633.2V2671.94M1736.5 2633.2V2671.94M1738.5 2633.2V2671.94M1740.5 2633.2V2671.94M1745.5 2633.2V2671.94M1749.5 2633.2V2671.94M1753.5 2633.2V2671.94M1755.5 2633.2V2671.94M1760.5 2633.2V2671.94M1764.5 2633.2V2671.94M1768.5 2633.2V2671.94M1773.5 2633.2V2671.94M1778.5 2633.2V2671.94M1783.5 2633.2V2671.94M1787.5 2633.2V2671.94M1789.5 2633.2V2671.94M1791.5 2633.2V2671.94M1793.5 2633.2V2671.94M1795.5 2633.2V2671.94M1799.5 2633.2V2671.94M1803.5 2633.2V2671.94M1805.5 2633.2V2671.94M1807.5 2633.2V2671.94M1809.5 2633.2V2671.94M1813.5 2633.2V2671.94M1817.5 2633.2V2671.94M1819.5 2633.2V2671.94M1821.5 2633.2V2671.94M1826.5 2633.2V2671.94M1830.5 2633.2V2671.94M1835.5 2633.2V2671.94M1840.5 2633.2V2671.94M1842.5 2633.2V2671.94M1846.5 2633.2V2671.94M1848.5 2633.2V2671.94M1850.5 2633.2V2671.94M1854.5 2633.2V2671.94M1859.5 2633.2V2671.94M1864.5 2633.2V2671.94M1869.5 2633.2V2671.94M1874.5 2633.2V2671.94M1876.5 2633.2V2671.94M1878.5 2633.2V2671.94M1883.5 2633.2V2671.94M1885.5 2633.2V2671.94M1889.5 2633.2V2671.94M1891.5 2633.2V2671.94M1895.5 2633.2V2671.94M1897.5 2633.2V2671.94M1899.5 2633.2V2671.94M1901.5 2633.2V2671.94M1906.5 2633.2V2671.94M1908.5 2633.2V2671.94M1910.5 2633.2V2671.94M1912.5 2633.2V2671.94M1914.5 2633.2V2671.94M1918.5 2633.2V2671.94M1920.5 2633.2V2671.94M1925.5 2633.2V2671.94M1927.5 2633.2V2671.94M1929.5 2633.2V2671.94M1933.5 2633.2V2671.94M1938.5 2633.2V2671.94M1940.5 2633.2V2671.94M1944.5 2633.2V2671.94M1949.5 2633.2V2671.94M1954.5 2633.2V2671.94M1956.5 2633.2V2671.94M1958.5 2633.2V2671.94M1960.5 2633.2V2671.94M1962.5 2633.2V2671.94M1964.5 2633.2V2671.94M1966.5 2633.2V2671.94M1968.5 2633.2V2671.94M1972.5 2633.2V2671.94M1974.5 2633.2V2671.94M1976.5 2633.2V2671.94M1978.5 2633.2V2671.94M1983.5 2633.2V2671.94M1987.5 2633.2V2671.94M1989.5 2633.2V2671.94M1991.5 2633.2V2671.94M1995.5 2633.2V2671.94M1997.5 2633.2V2671.94M2001.5 2633.2V2671.94M2005.5 2633.2V2671.94" stroke="#fff" stroke-opacity="0.16" stroke-width="1" fill="none"/>
<rect x="1390.97" y="2633.2" width="617.09" height="38.74" rx="1.41" fill="none" stroke="#000" stroke-width="3.33"/>
<path d="M1477.5 2633.2v7.73M1477.5 2671.94v-7.73M1635.4 2633.2v7.73M1635.4 2671.94v-7.73M1792.9 2633.2v7.73M1792.9 2671.94v-7.73M1950.9 2633.2v7.73M1950.9 2671.94v-7.73" stroke="#000" stroke-width="3.43" fill="none"/>
<text x="1477.5" y="2703.95" font-size="26.06" text-anchor="middle">0.2</text>
<text x="1635.4" y="2703.95" font-size="26.06" text-anchor="middle">0.4</text>
<text x="1792.9" y="2703.95" font-size="26.06" text-anchor="middle">0.6</text>
<text x="1950.9" y="2703.95" font-size="26.06" text-anchor="middle">0.8</text>
</g>
</svg></body></html>
